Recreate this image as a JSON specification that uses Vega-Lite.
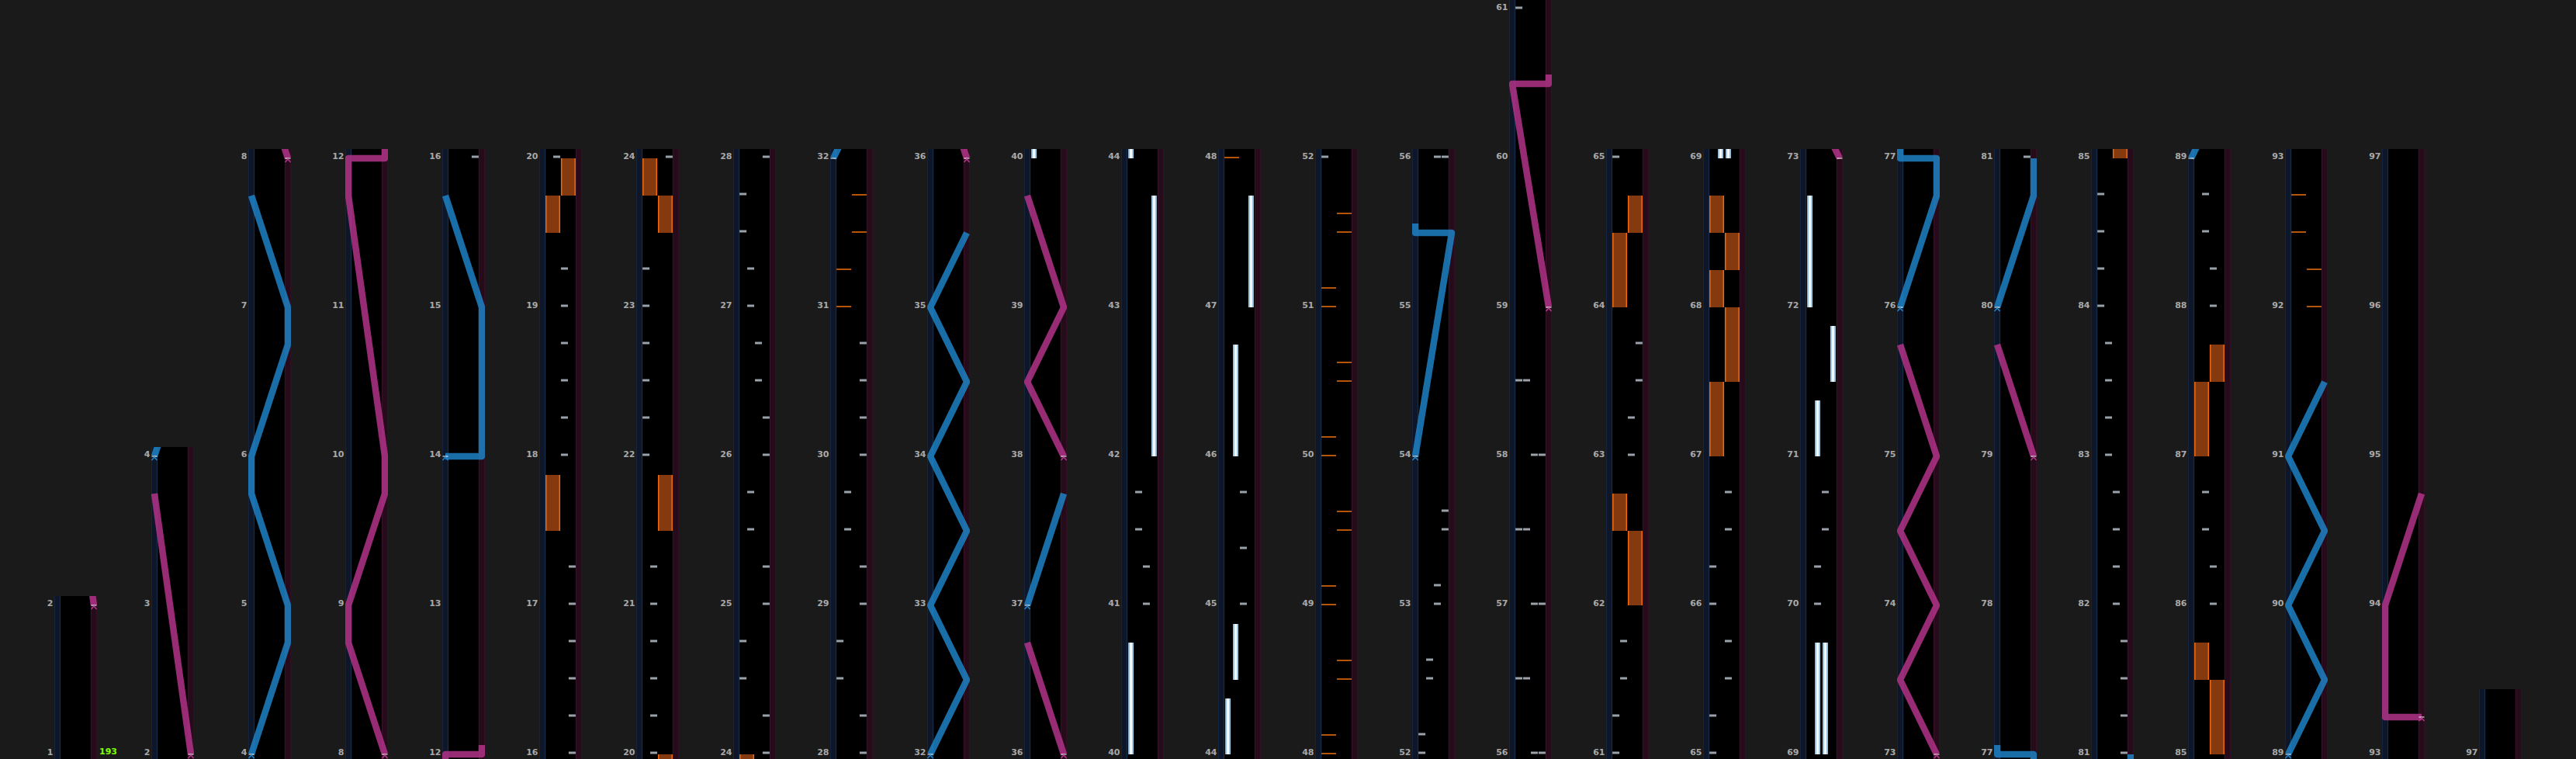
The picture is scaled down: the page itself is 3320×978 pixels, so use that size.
{
"$schema":"https://vega.github.io/schema/vega-lite/v6.json",
"background":"#1a1a1a",
"autosize":{"type":"pad"},
"padding":{"left":60,"top":0,"right":72,"bottom":0},
"spacing":70,
"bounds":"flush",
"config":{
 "view":{"stroke":null,"fill":"#000000"},
 "line":{"strokeWidth":8.5,"opacity":0.82,"strokeJoin":"round","strokeCap":"butt"},
 "axisLeft":{"domain":false,"ticks":false,"labelColor":"#a8a8a8","labelFont":"DejaVu Sans","labelFontWeight":"bold","labelFontSize":11,"labelPadding":2,"labelBaseline":"alphabetic","grid":true,"gridColor":"#858585","gridWidth":1,"labelFlush":false,"labelOverlap":false},
 "axisRight":{"domain":false,"ticks":false,"labels":false,"grid":true,"gridColor":"#3a3a3a","gridWidth":1},
 "axisBottom":{"domain":false,"ticks":false,"labels":false,"grid":true,"gridColor":"#3a3a3a","gridWidth":1}
},
"datasets":{
 "E":[{}],
 "C":[{"m":16,"l":3},{"m":16.25,"l":3},{"m":16.5,"l":3},{"m":16.75,"l":3},{"m":17,"l":3},{"m":17.25,"l":3},
 {"m":18,"l":2},{"m":18.25,"l":2},{"m":18.5,"l":2},{"m":18.75,"l":2},{"m":19,"l":2},{"m":19.25,"l":2},
 {"m":20,"l":1},{"m":20.25,"l":1},{"m":20.5,"l":1},{"m":20.75,"l":1},{"m":21,"l":1},{"m":21.25,"l":1},
 {"m":22,"l":0},{"m":22.25,"l":0},{"m":22.5,"l":0},{"m":22.75,"l":0},{"m":23,"l":0},{"m":23.25,"l":0},
 {"m":24,"l":3},{"m":24.25,"l":3},{"m":24.5,"l":0},{"m":24.75,"l":0},{"m":25,"l":3},{"m":25.25,"l":3},{"m":25.5,"l":1},{"m":25.75,"l":1},{"m":26,"l":3},{"m":26.25,"l":3},{"m":26.5,"l":2},{"m":26.75,"l":2},{"m":27,"l":1},{"m":27.25,"l":1},{"m":27.5,"l":0},{"m":27.75,"l":0},
 {"m":28,"l":3},{"m":28.25,"l":3},{"m":28.5,"l":0},{"m":28.75,"l":0},{"m":29,"l":3},{"m":29.25,"l":3},{"m":29.5,"l":1},{"m":29.75,"l":1},{"m":30,"l":3},{"m":30.25,"l":3},{"m":30.5,"l":3},{"m":30.75,"l":3},
 {"m":41,"l":2},{"m":41.25,"l":2},{"m":41.5,"l":1},{"m":41.75,"l":1},
 {"m":45,"l":2},{"m":45.375,"l":2},{"m":45.75,"l":2},
 {"m":52,"l":0},{"m":52.125,"l":0},{"m":52.5,"l":1},{"m":52.625,"l":1},{"m":53,"l":2},{"m":53.125,"l":2},{"m":53.5,"l":3},{"m":53.625,"l":3},
 {"m":56,"l":2},{"m":56,"l":3},{"m":56.5,"l":0},{"m":56.5,"l":1},{"m":57,"l":2},{"m":57,"l":3},{"m":57.5,"l":0},{"m":57.5,"l":1},{"m":58,"l":2},{"m":58,"l":3},{"m":58.5,"l":0},{"m":58.5,"l":1},
 {"m":61,"l":0},{"m":61.25,"l":0},{"m":61.5,"l":1},{"m":61.75,"l":1},
 {"m":63,"l":2},{"m":63.25,"l":2},{"m":63.5,"l":3},{"m":63.75,"l":3},
 {"m":65,"l":0},{"m":65.25,"l":0},{"m":65.5,"l":2},{"m":65.75,"l":2},{"m":66,"l":0},{"m":66.25,"l":0},{"m":66.5,"l":2},{"m":66.75,"l":2},
 {"m":70,"l":1},{"m":70.25,"l":1},{"m":70.5,"l":2},{"m":70.75,"l":2},
 {"m":81,"l":3},{"m":81.25,"l":3},{"m":81.5,"l":3},{"m":81.75,"l":3},{"m":82,"l":2},{"m":82.25,"l":2},{"m":82.5,"l":2},{"m":82.75,"l":2},
 {"m":83,"l":1},{"m":83.25,"l":1},{"m":83.5,"l":1},{"m":83.75,"l":1},{"m":84,"l":0},{"m":84.25,"l":0},{"m":84.5,"l":0},{"m":84.75,"l":0},
 {"m":86,"l":2},{"m":86.25,"l":2},{"m":86.5,"l":1},{"m":86.75,"l":1},{"m":88,"l":2},{"m":88.25,"l":2},{"m":88.5,"l":1},{"m":88.75,"l":1}],
 "X":[{"m":31,"l":0},{"m":31.25,"l":0},{"m":31.5,"l":1},{"m":31.75,"l":1},
 {"m":48,"l":0},{"m":48.125,"l":0},{"m":48.5,"l":1},{"m":48.625,"l":1},{"m":49,"l":0},{"m":49.125,"l":0},{"m":49.5,"l":1},{"m":49.625,"l":1},{"m":50,"l":0},{"m":50.125,"l":0},{"m":50.5,"l":1},{"m":50.625,"l":1},{"m":51,"l":0},{"m":51.125,"l":0},{"m":51.5,"l":1},{"m":51.625,"l":1},
 {"m":92,"l":1},{"m":92.25,"l":1},{"m":92.5,"l":0},{"m":92.75,"l":0}],
 "H":[{"m":40,"e":40.75,"l":0},{"m":42,"e":43.75,"l":3},{"m":44,"e":44.375,"l":0},{"m":44.5,"e":44.875,"l":1},{"m":46,"e":46.75,"l":1},{"m":47,"e":47.75,"l":3},
 {"m":69,"e":69.75,"l":1},{"m":69,"e":69.75,"l":2},{"m":71,"e":71.375,"l":1},{"m":71.5,"e":71.875,"l":3},{"m":72,"e":72.75,"l":0}],
 "F":[{"m":17.5,"e":17.875,"l":0},{"m":19.5,"e":19.75,"l":0},{"m":19.75,"e":20,"l":1},{"m":21.5,"e":21.875,"l":1},{"m":23.5,"e":23.75,"l":1},{"m":23.75,"e":24,"l":0},
 {"m":62,"e":62.5,"l":1},{"m":62.5,"e":62.75,"l":0},{"m":64,"e":64.5,"l":0},{"m":64.5,"e":64.75,"l":1},
 {"m":67,"e":67.5,"l":0},{"m":67.5,"e":68,"l":1},{"m":68,"e":68.25,"l":0},{"m":68.25,"e":68.5,"l":1},{"m":68.5,"e":68.75,"l":0},
 {"m":85,"e":85.5,"l":1},{"m":85.5,"e":85.75,"l":0},{"m":87,"e":87.5,"l":0},{"m":87.5,"e":87.75,"l":1}],
 "L":[
 {"id":"r1","sd":"R","s":0,"m":2,"p":1},{"id":"r1","sd":"R","s":1,"m":3.75,"p":0},
 {"id":"b1","sd":"L","s":0,"m":4,"p":0},{"id":"b1","sd":"L","s":1,"m":4.75,"p":1},{"id":"b1","sd":"L","s":2,"m":5,"p":1},{"id":"b1","sd":"L","s":3,"m":5.75,"p":0},{"id":"b1","sd":"L","s":4,"m":6,"p":0},{"id":"b1","sd":"L","s":5,"m":6.75,"p":1},{"id":"b1","sd":"L","s":6,"m":7,"p":1},{"id":"b1","sd":"L","s":7,"m":7.75,"p":0},
 {"id":"r2","sd":"R","s":0,"m":8,"p":1},{"id":"r2","sd":"R","s":1,"m":8.75,"p":0},{"id":"r2","sd":"R","s":2,"m":9,"p":0},{"id":"r2","sd":"R","s":3,"m":9.75,"p":1},{"id":"r2","sd":"R","s":4,"m":10,"p":1},{"id":"r2","sd":"R","s":5,"m":11.75,"p":0},{"id":"r2","sd":"R","s":6,"m":12,"p":0},{"id":"r2","sd":"R","s":7,"m":12,"p":1},{"id":"r2","sd":"R","s":8,"m":12.0625,"p":1},
 {"id":"b2","sd":"L","s":0,"m":14,"p":0},{"id":"b2","sd":"L","s":1,"m":14,"p":1},{"id":"b2","sd":"L","s":2,"m":15,"p":1},{"id":"b2","sd":"L","s":3,"m":15.75,"p":0},
 {"id":"b3","sd":"L","s":0,"m":32,"p":0},{"id":"b3","sd":"L","s":1,"m":32.5,"p":1},{"id":"b3","sd":"L","s":2,"m":33,"p":0},{"id":"b3","sd":"L","s":3,"m":33.5,"p":1},{"id":"b3","sd":"L","s":4,"m":34,"p":0},{"id":"b3","sd":"L","s":5,"m":34.5,"p":1},{"id":"b3","sd":"L","s":6,"m":35,"p":0},{"id":"b3","sd":"L","s":7,"m":35.5,"p":1},
 {"id":"r3","sd":"R","s":0,"m":36,"p":1},{"id":"r3","sd":"R","s":1,"m":36.75,"p":0},
 {"id":"b4","sd":"L","s":0,"m":37,"p":0},{"id":"b4","sd":"L","s":1,"m":37.75,"p":1},
 {"id":"r4","sd":"R","s":0,"m":38,"p":1},{"id":"r4","sd":"R","s":1,"m":38.5,"p":0},{"id":"r4","sd":"R","s":2,"m":39,"p":1},{"id":"r4","sd":"R","s":3,"m":39.75,"p":0},
 {"id":"b5","sd":"L","s":0,"m":54,"p":0},{"id":"b5","sd":"L","s":1,"m":55.5,"p":1},{"id":"b5","sd":"L","s":2,"m":55.5,"p":0},{"id":"b5","sd":"L","s":3,"m":55.5625,"p":0},
 {"id":"r5","sd":"R","s":0,"m":59,"p":1},{"id":"r5","sd":"R","s":1,"m":60.5,"p":0},{"id":"r5","sd":"R","s":2,"m":60.5,"p":1},{"id":"r5","sd":"R","s":3,"m":60.5625,"p":1},
 {"id":"r6","sd":"R","s":0,"m":73,"p":1},{"id":"r6","sd":"R","s":1,"m":73.5,"p":0},{"id":"r6","sd":"R","s":2,"m":74,"p":1},{"id":"r6","sd":"R","s":3,"m":74.5,"p":0},{"id":"r6","sd":"R","s":4,"m":75,"p":1},{"id":"r6","sd":"R","s":5,"m":75.75,"p":0},
 {"id":"b6","sd":"L","s":0,"m":76,"p":0},{"id":"b6","sd":"L","s":1,"m":76.75,"p":1},{"id":"b6","sd":"L","s":2,"m":77,"p":1},{"id":"b6","sd":"L","s":3,"m":77,"p":0},{"id":"b6","sd":"L","s":4,"m":77.0625,"p":0},
 {"id":"r7","sd":"R","s":0,"m":79,"p":1},{"id":"r7","sd":"R","s":1,"m":79.75,"p":0},
 {"id":"b7","sd":"L","s":0,"m":80,"p":0},{"id":"b7","sd":"L","s":1,"m":80.75,"p":1},{"id":"b7","sd":"L","s":2,"m":81,"p":1},
 {"id":"b8","sd":"L","s":0,"m":89,"p":0},{"id":"b8","sd":"L","s":1,"m":89.5,"p":1},{"id":"b8","sd":"L","s":2,"m":90,"p":0},{"id":"b8","sd":"L","s":3,"m":90.5,"p":1},{"id":"b8","sd":"L","s":4,"m":91,"p":0},{"id":"b8","sd":"L","s":5,"m":91.5,"p":1},
 {"id":"r8","sd":"R","s":0,"m":93.25,"p":1},{"id":"r8","sd":"R","s":1,"m":93.25,"p":0},{"id":"r8","sd":"R","s":2,"m":94,"p":0},{"id":"r8","sd":"R","s":3,"m":94.75,"p":1}
 ],
 "B":[{"m":1,"bpm":193}]
},
"hconcat":[
{"width":55,"height":978,"resolve":{"scale":{"x":"independent"},"axis":{"y":"independent"}},"layer":[
{"data":{"name":"E"},"mark":{"type":"rect","fill":"#0d1729","stroke":"#1e3350","clip":true},"encoding":{"x":{"datum":-1.27,"type":"quantitative","scale":{"domain":[-1.27,4.27]},"axis":null},"x2":{"datum":-0.5},"y":{"datum":-200,"type":"quantitative","axis":null},"y2":{"datum":200}}},
{"data":{"name":"E"},"mark":{"type":"rect","fill":"#260c1b","stroke":"#3e1630","clip":true},"encoding":{"x":{"datum":3.5,"type":"quantitative","scale":{"domain":[-1.27,4.27]},"axis":null},"x2":{"datum":4.27},"y":{"datum":-200,"type":"quantitative","axis":null},"y2":{"datum":200}}},
{"data":{"name":"C"},"mark":{"type":"tick","orient":"horizontal","size":9,"thickness":3,"yOffset":-2,"color":"#dce6ef","clip":true},"encoding":{"x":{"field":"l","type":"quantitative","scale":{"domain":[-1.27,4.27]},"axis":{"values":[-0.5,0.5,1.5,2.5,3.5],"title":null}},"y":{"field":"m","type":"quantitative","scale":{"domain":[0.96875,6.0625],"nice":false,"zero":false},"axis":{"orient":"left","values":[1,2],"title":null,"zindex":1}}}},
{"data":{"name":"X"},"mark":{"type":"tick","orient":"horizontal","size":19,"thickness":2,"yOffset":-1,"color":"#ff7a10","clip":true},"encoding":{"x":{"field":"l","type":"quantitative","scale":{"domain":[-0.885,1.885]},"axis":null},"y":{"field":"m","type":"quantitative","axis":{"orient":"right","values":[1.25,1.5,1.75],"title":null}}}},
{"data":{"name":"L"},"mark":{"type":"line","clip":true},"encoding":{"x":{"field":"p","type":"quantitative","scale":{"domain":[-0.0851,1.0851]},"axis":null},"y":{"field":"m","type":"quantitative","axis":null},"color":{"field":"sd","type":"nominal","scale":{"domain":["L","R"],"range":["#1f86cc","#b8358e"]},"legend":null},"detail":{"field":"id"},"order":{"field":"s"}}},
{"data":{"name":"L"},"transform":[{"filter":"datum.s==0"}],"mark":{"type":"tick","orient":"horizontal","size":7,"thickness":1.5,"color":"#ffffff","clip":true},"encoding":{"x":{"field":"p","type":"quantitative","scale":{"domain":[-0.0851,1.0851]},"axis":null},"y":{"field":"m","type":"quantitative","axis":null}}},
{"data":{"name":"L"},"transform":[{"filter":"datum.s==0"}],"mark":{"type":"point","shape":"M-1,0.6L0,-0.6L1,0.6","filled":false,"strokeWidth":1.5,"size":49,"yOffset":3,"opacity":1,"clip":true},"encoding":{"x":{"field":"p","type":"quantitative","scale":{"domain":[-0.0851,1.0851]},"axis":null},"y":{"field":"m","type":"quantitative","axis":null},"color":{"field":"sd","type":"nominal","scale":{"domain":["L","R"],"range":["#1f86cc","#b8358e"]},"legend":null}}},
{"data":{"name":"E"},"mark":{"type":"rect","color":"#1a1a1a","yOffset":-12,"clip":true},"encoding":{"x":{"datum":-200,"type":"quantitative","scale":{"domain":[-1.27,4.27]},"axis":null},"x2":{"datum":200},"y":{"datum":2,"type":"quantitative","axis":null},"y2":{"datum":200}}},
{"data":{"name":"B"},"mark":{"type":"text","color":"#80ff00","font":"DejaVu Sans","fontWeight":"bold","fontSize":11,"align":"left","baseline":"alphabetic","dx":3},"encoding":{"x":{"datum":4.27,"type":"quantitative","scale":{"domain":[-1.27,4.27]},"axis":null},"y":{"field":"m","type":"quantitative","axis":null},"text":{"field":"bpm"}}}
]},
{"width":55,"height":978,"resolve":{"scale":{"x":"independent"},"axis":{"y":"independent"}},"layer":[
{"data":{"name":"E"},"mark":{"type":"rect","fill":"#0d1729","stroke":"#1e3350","clip":true},"encoding":{"x":{"datum":-1.27,"type":"quantitative","scale":{"domain":[-1.27,4.27]},"axis":null},"x2":{"datum":-0.5},"y":{"datum":-200,"type":"quantitative","axis":null},"y2":{"datum":200}}},
{"data":{"name":"E"},"mark":{"type":"rect","fill":"#260c1b","stroke":"#3e1630","clip":true},"encoding":{"x":{"datum":3.5,"type":"quantitative","scale":{"domain":[-1.27,4.27]},"axis":null},"x2":{"datum":4.27},"y":{"datum":-200,"type":"quantitative","axis":null},"y2":{"datum":200}}},
{"data":{"name":"C"},"mark":{"type":"tick","orient":"horizontal","size":9,"thickness":3,"yOffset":-2,"color":"#dce6ef","clip":true},"encoding":{"x":{"field":"l","type":"quantitative","scale":{"domain":[-1.27,4.27]},"axis":{"values":[-0.5,0.5,1.5,2.5,3.5],"title":null}},"y":{"field":"m","type":"quantitative","scale":{"domain":[1.96875,7.0625],"nice":false,"zero":false},"axis":{"orient":"left","values":[2,3,4],"title":null,"zindex":1}}}},
{"data":{"name":"X"},"mark":{"type":"tick","orient":"horizontal","size":19,"thickness":2,"yOffset":-1,"color":"#ff7a10","clip":true},"encoding":{"x":{"field":"l","type":"quantitative","scale":{"domain":[-0.885,1.885]},"axis":null},"y":{"field":"m","type":"quantitative","axis":{"orient":"right","values":[2.25,2.5,2.75,3.25,3.5,3.75],"title":null}}}},
{"data":{"name":"L"},"mark":{"type":"line","clip":true},"encoding":{"x":{"field":"p","type":"quantitative","scale":{"domain":[-0.0851,1.0851]},"axis":null},"y":{"field":"m","type":"quantitative","axis":null},"color":{"field":"sd","type":"nominal","scale":{"domain":["L","R"],"range":["#1f86cc","#b8358e"]},"legend":null},"detail":{"field":"id"},"order":{"field":"s"}}},
{"data":{"name":"L"},"transform":[{"filter":"datum.s==0"}],"mark":{"type":"tick","orient":"horizontal","size":7,"thickness":1.5,"color":"#ffffff","clip":true},"encoding":{"x":{"field":"p","type":"quantitative","scale":{"domain":[-0.0851,1.0851]},"axis":null},"y":{"field":"m","type":"quantitative","axis":null}}},
{"data":{"name":"L"},"transform":[{"filter":"datum.s==0"}],"mark":{"type":"point","shape":"M-1,0.6L0,-0.6L1,0.6","filled":false,"strokeWidth":1.5,"size":49,"yOffset":3,"opacity":1,"clip":true},"encoding":{"x":{"field":"p","type":"quantitative","scale":{"domain":[-0.0851,1.0851]},"axis":null},"y":{"field":"m","type":"quantitative","axis":null},"color":{"field":"sd","type":"nominal","scale":{"domain":["L","R"],"range":["#1f86cc","#b8358e"]},"legend":null}}},
{"data":{"name":"E"},"mark":{"type":"rect","color":"#1a1a1a","yOffset":-12,"clip":true},"encoding":{"x":{"datum":-200,"type":"quantitative","scale":{"domain":[-1.27,4.27]},"axis":null},"x2":{"datum":200},"y":{"datum":4,"type":"quantitative","axis":null},"y2":{"datum":200}}}
]},
{"width":55,"height":978,"resolve":{"scale":{"x":"independent"},"axis":{"y":"independent"}},"layer":[
{"data":{"name":"E"},"mark":{"type":"rect","fill":"#0d1729","stroke":"#1e3350","clip":true},"encoding":{"x":{"datum":-1.27,"type":"quantitative","scale":{"domain":[-1.27,4.27]},"axis":null},"x2":{"datum":-0.5},"y":{"datum":-200,"type":"quantitative","axis":null},"y2":{"datum":200}}},
{"data":{"name":"E"},"mark":{"type":"rect","fill":"#260c1b","stroke":"#3e1630","clip":true},"encoding":{"x":{"datum":3.5,"type":"quantitative","scale":{"domain":[-1.27,4.27]},"axis":null},"x2":{"datum":4.27},"y":{"datum":-200,"type":"quantitative","axis":null},"y2":{"datum":200}}},
{"data":{"name":"C"},"mark":{"type":"tick","orient":"horizontal","size":9,"thickness":3,"yOffset":-2,"color":"#dce6ef","clip":true},"encoding":{"x":{"field":"l","type":"quantitative","scale":{"domain":[-1.27,4.27]},"axis":{"values":[-0.5,0.5,1.5,2.5,3.5],"title":null}},"y":{"field":"m","type":"quantitative","scale":{"domain":[3.96875,9.0625],"nice":false,"zero":false},"axis":{"orient":"left","values":[4,5,6,7,8],"title":null,"zindex":1}}}},
{"data":{"name":"X"},"mark":{"type":"tick","orient":"horizontal","size":19,"thickness":2,"yOffset":-1,"color":"#ff7a10","clip":true},"encoding":{"x":{"field":"l","type":"quantitative","scale":{"domain":[-0.885,1.885]},"axis":null},"y":{"field":"m","type":"quantitative","axis":{"orient":"right","values":[4.25,4.5,4.75,5.25,5.5,5.75,6.25,6.5,6.75,7.25,7.5,7.75],"title":null}}}},
{"data":{"name":"L"},"mark":{"type":"line","clip":true},"encoding":{"x":{"field":"p","type":"quantitative","scale":{"domain":[-0.0851,1.0851]},"axis":null},"y":{"field":"m","type":"quantitative","axis":null},"color":{"field":"sd","type":"nominal","scale":{"domain":["L","R"],"range":["#1f86cc","#b8358e"]},"legend":null},"detail":{"field":"id"},"order":{"field":"s"}}},
{"data":{"name":"L"},"transform":[{"filter":"datum.s==0"}],"mark":{"type":"tick","orient":"horizontal","size":7,"thickness":1.5,"color":"#ffffff","clip":true},"encoding":{"x":{"field":"p","type":"quantitative","scale":{"domain":[-0.0851,1.0851]},"axis":null},"y":{"field":"m","type":"quantitative","axis":null}}},
{"data":{"name":"L"},"transform":[{"filter":"datum.s==0"}],"mark":{"type":"point","shape":"M-1,0.6L0,-0.6L1,0.6","filled":false,"strokeWidth":1.5,"size":49,"yOffset":3,"opacity":1,"clip":true},"encoding":{"x":{"field":"p","type":"quantitative","scale":{"domain":[-0.0851,1.0851]},"axis":null},"y":{"field":"m","type":"quantitative","axis":null},"color":{"field":"sd","type":"nominal","scale":{"domain":["L","R"],"range":["#1f86cc","#b8358e"]},"legend":null}}},
{"data":{"name":"E"},"mark":{"type":"rect","color":"#1a1a1a","yOffset":-12,"clip":true},"encoding":{"x":{"datum":-200,"type":"quantitative","scale":{"domain":[-1.27,4.27]},"axis":null},"x2":{"datum":200},"y":{"datum":8,"type":"quantitative","axis":null},"y2":{"datum":200}}}
]},
{"width":55,"height":978,"resolve":{"scale":{"x":"independent"},"axis":{"y":"independent"}},"layer":[
{"data":{"name":"E"},"mark":{"type":"rect","fill":"#0d1729","stroke":"#1e3350","clip":true},"encoding":{"x":{"datum":-1.27,"type":"quantitative","scale":{"domain":[-1.27,4.27]},"axis":null},"x2":{"datum":-0.5},"y":{"datum":-200,"type":"quantitative","axis":null},"y2":{"datum":200}}},
{"data":{"name":"E"},"mark":{"type":"rect","fill":"#260c1b","stroke":"#3e1630","clip":true},"encoding":{"x":{"datum":3.5,"type":"quantitative","scale":{"domain":[-1.27,4.27]},"axis":null},"x2":{"datum":4.27},"y":{"datum":-200,"type":"quantitative","axis":null},"y2":{"datum":200}}},
{"data":{"name":"C"},"mark":{"type":"tick","orient":"horizontal","size":9,"thickness":3,"yOffset":-2,"color":"#dce6ef","clip":true},"encoding":{"x":{"field":"l","type":"quantitative","scale":{"domain":[-1.27,4.27]},"axis":{"values":[-0.5,0.5,1.5,2.5,3.5],"title":null}},"y":{"field":"m","type":"quantitative","scale":{"domain":[7.96875,13.0625],"nice":false,"zero":false},"axis":{"orient":"left","values":[8,9,10,11,12],"title":null,"zindex":1}}}},
{"data":{"name":"X"},"mark":{"type":"tick","orient":"horizontal","size":19,"thickness":2,"yOffset":-1,"color":"#ff7a10","clip":true},"encoding":{"x":{"field":"l","type":"quantitative","scale":{"domain":[-0.885,1.885]},"axis":null},"y":{"field":"m","type":"quantitative","axis":{"orient":"right","values":[8.25,8.5,8.75,9.25,9.5,9.75,10.25,10.5,10.75,11.25,11.5,11.75],"title":null}}}},
{"data":{"name":"L"},"mark":{"type":"line","clip":true},"encoding":{"x":{"field":"p","type":"quantitative","scale":{"domain":[-0.0851,1.0851]},"axis":null},"y":{"field":"m","type":"quantitative","axis":null},"color":{"field":"sd","type":"nominal","scale":{"domain":["L","R"],"range":["#1f86cc","#b8358e"]},"legend":null},"detail":{"field":"id"},"order":{"field":"s"}}},
{"data":{"name":"L"},"transform":[{"filter":"datum.s==0"}],"mark":{"type":"tick","orient":"horizontal","size":7,"thickness":1.5,"color":"#ffffff","clip":true},"encoding":{"x":{"field":"p","type":"quantitative","scale":{"domain":[-0.0851,1.0851]},"axis":null},"y":{"field":"m","type":"quantitative","axis":null}}},
{"data":{"name":"L"},"transform":[{"filter":"datum.s==0"}],"mark":{"type":"point","shape":"M-1,0.6L0,-0.6L1,0.6","filled":false,"strokeWidth":1.5,"size":49,"yOffset":3,"opacity":1,"clip":true},"encoding":{"x":{"field":"p","type":"quantitative","scale":{"domain":[-0.0851,1.0851]},"axis":null},"y":{"field":"m","type":"quantitative","axis":null},"color":{"field":"sd","type":"nominal","scale":{"domain":["L","R"],"range":["#1f86cc","#b8358e"]},"legend":null}}},
{"data":{"name":"E"},"mark":{"type":"rect","color":"#1a1a1a","yOffset":-12,"clip":true},"encoding":{"x":{"datum":-200,"type":"quantitative","scale":{"domain":[-1.27,4.27]},"axis":null},"x2":{"datum":200},"y":{"datum":12,"type":"quantitative","axis":null},"y2":{"datum":200}}}
]},
{"width":55,"height":978,"resolve":{"scale":{"x":"independent"},"axis":{"y":"independent"}},"layer":[
{"data":{"name":"E"},"mark":{"type":"rect","fill":"#0d1729","stroke":"#1e3350","clip":true},"encoding":{"x":{"datum":-1.27,"type":"quantitative","scale":{"domain":[-1.27,4.27]},"axis":null},"x2":{"datum":-0.5},"y":{"datum":-200,"type":"quantitative","axis":null},"y2":{"datum":200}}},
{"data":{"name":"E"},"mark":{"type":"rect","fill":"#260c1b","stroke":"#3e1630","clip":true},"encoding":{"x":{"datum":3.5,"type":"quantitative","scale":{"domain":[-1.27,4.27]},"axis":null},"x2":{"datum":4.27},"y":{"datum":-200,"type":"quantitative","axis":null},"y2":{"datum":200}}},
{"data":{"name":"C"},"mark":{"type":"tick","orient":"horizontal","size":9,"thickness":3,"yOffset":-2,"color":"#dce6ef","clip":true},"encoding":{"x":{"field":"l","type":"quantitative","scale":{"domain":[-1.27,4.27]},"axis":{"values":[-0.5,0.5,1.5,2.5,3.5],"title":null}},"y":{"field":"m","type":"quantitative","scale":{"domain":[11.96875,17.0625],"nice":false,"zero":false},"axis":{"orient":"left","values":[12,13,14,15,16],"title":null,"zindex":1}}}},
{"data":{"name":"X"},"mark":{"type":"tick","orient":"horizontal","size":19,"thickness":2,"yOffset":-1,"color":"#ff7a10","clip":true},"encoding":{"x":{"field":"l","type":"quantitative","scale":{"domain":[-0.885,1.885]},"axis":null},"y":{"field":"m","type":"quantitative","axis":{"orient":"right","values":[12.25,12.5,12.75,13.25,13.5,13.75,14.25,14.5,14.75,15.25,15.5,15.75],"title":null}}}},
{"data":{"name":"L"},"mark":{"type":"line","clip":true},"encoding":{"x":{"field":"p","type":"quantitative","scale":{"domain":[-0.0851,1.0851]},"axis":null},"y":{"field":"m","type":"quantitative","axis":null},"color":{"field":"sd","type":"nominal","scale":{"domain":["L","R"],"range":["#1f86cc","#b8358e"]},"legend":null},"detail":{"field":"id"},"order":{"field":"s"}}},
{"data":{"name":"L"},"transform":[{"filter":"datum.s==0"}],"mark":{"type":"tick","orient":"horizontal","size":7,"thickness":1.5,"color":"#ffffff","clip":true},"encoding":{"x":{"field":"p","type":"quantitative","scale":{"domain":[-0.0851,1.0851]},"axis":null},"y":{"field":"m","type":"quantitative","axis":null}}},
{"data":{"name":"L"},"transform":[{"filter":"datum.s==0"}],"mark":{"type":"point","shape":"M-1,0.6L0,-0.6L1,0.6","filled":false,"strokeWidth":1.5,"size":49,"yOffset":3,"opacity":1,"clip":true},"encoding":{"x":{"field":"p","type":"quantitative","scale":{"domain":[-0.0851,1.0851]},"axis":null},"y":{"field":"m","type":"quantitative","axis":null},"color":{"field":"sd","type":"nominal","scale":{"domain":["L","R"],"range":["#1f86cc","#b8358e"]},"legend":null}}},
{"data":{"name":"E"},"mark":{"type":"rect","color":"#1a1a1a","yOffset":-12,"clip":true},"encoding":{"x":{"datum":-200,"type":"quantitative","scale":{"domain":[-1.27,4.27]},"axis":null},"x2":{"datum":200},"y":{"datum":16,"type":"quantitative","axis":null},"y2":{"datum":200}}}
]},
{"width":55,"height":978,"resolve":{"scale":{"x":"independent"},"axis":{"y":"independent"}},"layer":[
{"data":{"name":"E"},"mark":{"type":"rect","fill":"#0d1729","stroke":"#1e3350","clip":true},"encoding":{"x":{"datum":-1.27,"type":"quantitative","scale":{"domain":[-1.27,4.27]},"axis":null},"x2":{"datum":-0.5},"y":{"datum":-200,"type":"quantitative","axis":null},"y2":{"datum":200}}},
{"data":{"name":"E"},"mark":{"type":"rect","fill":"#260c1b","stroke":"#3e1630","clip":true},"encoding":{"x":{"datum":3.5,"type":"quantitative","scale":{"domain":[-1.27,4.27]},"axis":null},"x2":{"datum":4.27},"y":{"datum":-200,"type":"quantitative","axis":null},"y2":{"datum":200}}},
{"data":{"name":"F"},"mark":{"type":"rule","color":"#f06a10","strokeWidth":19,"clip":true},"encoding":{"x":{"field":"l","type":"quantitative","scale":{"domain":[-0.885,1.885]},"axis":null},"y":{"field":"m","type":"quantitative","axis":null},"y2":{"field":"e"}}},
{"data":{"name":"F"},"mark":{"type":"rule","color":"#843a0e","strokeWidth":16,"clip":true},"encoding":{"x":{"field":"l","type":"quantitative","scale":{"domain":[-0.885,1.885]},"axis":null},"y":{"field":"m","type":"quantitative","axis":null},"y2":{"field":"e"}}},
{"data":{"name":"C"},"mark":{"type":"tick","orient":"horizontal","size":9,"thickness":3,"yOffset":-2,"color":"#dce6ef","clip":true},"encoding":{"x":{"field":"l","type":"quantitative","scale":{"domain":[-1.27,4.27]},"axis":{"values":[-0.5,0.5,1.5,2.5,3.5],"title":null}},"y":{"field":"m","type":"quantitative","scale":{"domain":[15.96875,21.0625],"nice":false,"zero":false},"axis":{"orient":"left","values":[16,17,18,19,20],"title":null,"zindex":1}}}},
{"data":{"name":"X"},"mark":{"type":"tick","orient":"horizontal","size":19,"thickness":2,"yOffset":-1,"color":"#ff7a10","clip":true},"encoding":{"x":{"field":"l","type":"quantitative","scale":{"domain":[-0.885,1.885]},"axis":null},"y":{"field":"m","type":"quantitative","axis":{"orient":"right","values":[16.25,16.5,16.75,17.25,17.5,17.75,18.25,18.5,18.75,19.25,19.5,19.75],"title":null}}}},
{"data":{"name":"L"},"mark":{"type":"line","clip":true},"encoding":{"x":{"field":"p","type":"quantitative","scale":{"domain":[-0.0851,1.0851]},"axis":null},"y":{"field":"m","type":"quantitative","axis":null},"color":{"field":"sd","type":"nominal","scale":{"domain":["L","R"],"range":["#1f86cc","#b8358e"]},"legend":null},"detail":{"field":"id"},"order":{"field":"s"}}},
{"data":{"name":"E"},"mark":{"type":"rect","color":"#1a1a1a","yOffset":-12,"clip":true},"encoding":{"x":{"datum":-200,"type":"quantitative","scale":{"domain":[-1.27,4.27]},"axis":null},"x2":{"datum":200},"y":{"datum":20,"type":"quantitative","axis":null},"y2":{"datum":200}}}
]},
{"width":55,"height":978,"resolve":{"scale":{"x":"independent"},"axis":{"y":"independent"}},"layer":[
{"data":{"name":"E"},"mark":{"type":"rect","fill":"#0d1729","stroke":"#1e3350","clip":true},"encoding":{"x":{"datum":-1.27,"type":"quantitative","scale":{"domain":[-1.27,4.27]},"axis":null},"x2":{"datum":-0.5},"y":{"datum":-200,"type":"quantitative","axis":null},"y2":{"datum":200}}},
{"data":{"name":"E"},"mark":{"type":"rect","fill":"#260c1b","stroke":"#3e1630","clip":true},"encoding":{"x":{"datum":3.5,"type":"quantitative","scale":{"domain":[-1.27,4.27]},"axis":null},"x2":{"datum":4.27},"y":{"datum":-200,"type":"quantitative","axis":null},"y2":{"datum":200}}},
{"data":{"name":"F"},"mark":{"type":"rule","color":"#f06a10","strokeWidth":19,"clip":true},"encoding":{"x":{"field":"l","type":"quantitative","scale":{"domain":[-0.885,1.885]},"axis":null},"y":{"field":"m","type":"quantitative","axis":null},"y2":{"field":"e"}}},
{"data":{"name":"F"},"mark":{"type":"rule","color":"#843a0e","strokeWidth":16,"clip":true},"encoding":{"x":{"field":"l","type":"quantitative","scale":{"domain":[-0.885,1.885]},"axis":null},"y":{"field":"m","type":"quantitative","axis":null},"y2":{"field":"e"}}},
{"data":{"name":"C"},"mark":{"type":"tick","orient":"horizontal","size":9,"thickness":3,"yOffset":-2,"color":"#dce6ef","clip":true},"encoding":{"x":{"field":"l","type":"quantitative","scale":{"domain":[-1.27,4.27]},"axis":{"values":[-0.5,0.5,1.5,2.5,3.5],"title":null}},"y":{"field":"m","type":"quantitative","scale":{"domain":[19.96875,25.0625],"nice":false,"zero":false},"axis":{"orient":"left","values":[20,21,22,23,24],"title":null,"zindex":1}}}},
{"data":{"name":"X"},"mark":{"type":"tick","orient":"horizontal","size":19,"thickness":2,"yOffset":-1,"color":"#ff7a10","clip":true},"encoding":{"x":{"field":"l","type":"quantitative","scale":{"domain":[-0.885,1.885]},"axis":null},"y":{"field":"m","type":"quantitative","axis":{"orient":"right","values":[20.25,20.5,20.75,21.25,21.5,21.75,22.25,22.5,22.75,23.25,23.5,23.75],"title":null}}}},
{"data":{"name":"E"},"mark":{"type":"rect","color":"#1a1a1a","yOffset":-12,"clip":true},"encoding":{"x":{"datum":-200,"type":"quantitative","scale":{"domain":[-1.27,4.27]},"axis":null},"x2":{"datum":200},"y":{"datum":24,"type":"quantitative","axis":null},"y2":{"datum":200}}}
]},
{"width":55,"height":978,"resolve":{"scale":{"x":"independent"},"axis":{"y":"independent"}},"layer":[
{"data":{"name":"E"},"mark":{"type":"rect","fill":"#0d1729","stroke":"#1e3350","clip":true},"encoding":{"x":{"datum":-1.27,"type":"quantitative","scale":{"domain":[-1.27,4.27]},"axis":null},"x2":{"datum":-0.5},"y":{"datum":-200,"type":"quantitative","axis":null},"y2":{"datum":200}}},
{"data":{"name":"E"},"mark":{"type":"rect","fill":"#260c1b","stroke":"#3e1630","clip":true},"encoding":{"x":{"datum":3.5,"type":"quantitative","scale":{"domain":[-1.27,4.27]},"axis":null},"x2":{"datum":4.27},"y":{"datum":-200,"type":"quantitative","axis":null},"y2":{"datum":200}}},
{"data":{"name":"F"},"mark":{"type":"rule","color":"#f06a10","strokeWidth":19,"clip":true},"encoding":{"x":{"field":"l","type":"quantitative","scale":{"domain":[-0.885,1.885]},"axis":null},"y":{"field":"m","type":"quantitative","axis":null},"y2":{"field":"e"}}},
{"data":{"name":"F"},"mark":{"type":"rule","color":"#843a0e","strokeWidth":16,"clip":true},"encoding":{"x":{"field":"l","type":"quantitative","scale":{"domain":[-0.885,1.885]},"axis":null},"y":{"field":"m","type":"quantitative","axis":null},"y2":{"field":"e"}}},
{"data":{"name":"C"},"mark":{"type":"tick","orient":"horizontal","size":9,"thickness":3,"yOffset":-2,"color":"#dce6ef","clip":true},"encoding":{"x":{"field":"l","type":"quantitative","scale":{"domain":[-1.27,4.27]},"axis":{"values":[-0.5,0.5,1.5,2.5,3.5],"title":null}},"y":{"field":"m","type":"quantitative","scale":{"domain":[23.96875,29.0625],"nice":false,"zero":false},"axis":{"orient":"left","values":[24,25,26,27,28],"title":null,"zindex":1}}}},
{"data":{"name":"X"},"mark":{"type":"tick","orient":"horizontal","size":19,"thickness":2,"yOffset":-1,"color":"#ff7a10","clip":true},"encoding":{"x":{"field":"l","type":"quantitative","scale":{"domain":[-0.885,1.885]},"axis":null},"y":{"field":"m","type":"quantitative","axis":{"orient":"right","values":[24.25,24.5,24.75,25.25,25.5,25.75,26.25,26.5,26.75,27.25,27.5,27.75],"title":null}}}},
{"data":{"name":"E"},"mark":{"type":"rect","color":"#1a1a1a","yOffset":-12,"clip":true},"encoding":{"x":{"datum":-200,"type":"quantitative","scale":{"domain":[-1.27,4.27]},"axis":null},"x2":{"datum":200},"y":{"datum":28,"type":"quantitative","axis":null},"y2":{"datum":200}}}
]},
{"width":55,"height":978,"resolve":{"scale":{"x":"independent"},"axis":{"y":"independent"}},"layer":[
{"data":{"name":"E"},"mark":{"type":"rect","fill":"#0d1729","stroke":"#1e3350","clip":true},"encoding":{"x":{"datum":-1.27,"type":"quantitative","scale":{"domain":[-1.27,4.27]},"axis":null},"x2":{"datum":-0.5},"y":{"datum":-200,"type":"quantitative","axis":null},"y2":{"datum":200}}},
{"data":{"name":"E"},"mark":{"type":"rect","fill":"#260c1b","stroke":"#3e1630","clip":true},"encoding":{"x":{"datum":3.5,"type":"quantitative","scale":{"domain":[-1.27,4.27]},"axis":null},"x2":{"datum":4.27},"y":{"datum":-200,"type":"quantitative","axis":null},"y2":{"datum":200}}},
{"data":{"name":"C"},"mark":{"type":"tick","orient":"horizontal","size":9,"thickness":3,"yOffset":-2,"color":"#dce6ef","clip":true},"encoding":{"x":{"field":"l","type":"quantitative","scale":{"domain":[-1.27,4.27]},"axis":{"values":[-0.5,0.5,1.5,2.5,3.5],"title":null}},"y":{"field":"m","type":"quantitative","scale":{"domain":[27.96875,33.0625],"nice":false,"zero":false},"axis":{"orient":"left","values":[28,29,30,31,32],"title":null,"zindex":1}}}},
{"data":{"name":"X"},"mark":{"type":"tick","orient":"horizontal","size":19,"thickness":2,"yOffset":-1,"color":"#ff7a10","clip":true},"encoding":{"x":{"field":"l","type":"quantitative","scale":{"domain":[-0.885,1.885]},"axis":null},"y":{"field":"m","type":"quantitative","axis":{"orient":"right","values":[28.25,28.5,28.75,29.25,29.5,29.75,30.25,30.5,30.75,31.25,31.5,31.75],"title":null}}}},
{"data":{"name":"L"},"mark":{"type":"line","clip":true},"encoding":{"x":{"field":"p","type":"quantitative","scale":{"domain":[-0.0851,1.0851]},"axis":null},"y":{"field":"m","type":"quantitative","axis":null},"color":{"field":"sd","type":"nominal","scale":{"domain":["L","R"],"range":["#1f86cc","#b8358e"]},"legend":null},"detail":{"field":"id"},"order":{"field":"s"}}},
{"data":{"name":"L"},"transform":[{"filter":"datum.s==0"}],"mark":{"type":"tick","orient":"horizontal","size":7,"thickness":1.5,"color":"#ffffff","clip":true},"encoding":{"x":{"field":"p","type":"quantitative","scale":{"domain":[-0.0851,1.0851]},"axis":null},"y":{"field":"m","type":"quantitative","axis":null}}},
{"data":{"name":"E"},"mark":{"type":"rect","color":"#1a1a1a","yOffset":-12,"clip":true},"encoding":{"x":{"datum":-200,"type":"quantitative","scale":{"domain":[-1.27,4.27]},"axis":null},"x2":{"datum":200},"y":{"datum":32,"type":"quantitative","axis":null},"y2":{"datum":200}}}
]},
{"width":55,"height":978,"resolve":{"scale":{"x":"independent"},"axis":{"y":"independent"}},"layer":[
{"data":{"name":"E"},"mark":{"type":"rect","fill":"#0d1729","stroke":"#1e3350","clip":true},"encoding":{"x":{"datum":-1.27,"type":"quantitative","scale":{"domain":[-1.27,4.27]},"axis":null},"x2":{"datum":-0.5},"y":{"datum":-200,"type":"quantitative","axis":null},"y2":{"datum":200}}},
{"data":{"name":"E"},"mark":{"type":"rect","fill":"#260c1b","stroke":"#3e1630","clip":true},"encoding":{"x":{"datum":3.5,"type":"quantitative","scale":{"domain":[-1.27,4.27]},"axis":null},"x2":{"datum":4.27},"y":{"datum":-200,"type":"quantitative","axis":null},"y2":{"datum":200}}},
{"data":{"name":"C"},"mark":{"type":"tick","orient":"horizontal","size":9,"thickness":3,"yOffset":-2,"color":"#dce6ef","clip":true},"encoding":{"x":{"field":"l","type":"quantitative","scale":{"domain":[-1.27,4.27]},"axis":{"values":[-0.5,0.5,1.5,2.5,3.5],"title":null}},"y":{"field":"m","type":"quantitative","scale":{"domain":[31.96875,37.0625],"nice":false,"zero":false},"axis":{"orient":"left","values":[32,33,34,35,36],"title":null,"zindex":1}}}},
{"data":{"name":"X"},"mark":{"type":"tick","orient":"horizontal","size":19,"thickness":2,"yOffset":-1,"color":"#ff7a10","clip":true},"encoding":{"x":{"field":"l","type":"quantitative","scale":{"domain":[-0.885,1.885]},"axis":null},"y":{"field":"m","type":"quantitative","axis":{"orient":"right","values":[32.25,32.5,32.75,33.25,33.5,33.75,34.25,34.5,34.75,35.25,35.5,35.75],"title":null}}}},
{"data":{"name":"L"},"mark":{"type":"line","clip":true},"encoding":{"x":{"field":"p","type":"quantitative","scale":{"domain":[-0.0851,1.0851]},"axis":null},"y":{"field":"m","type":"quantitative","axis":null},"color":{"field":"sd","type":"nominal","scale":{"domain":["L","R"],"range":["#1f86cc","#b8358e"]},"legend":null},"detail":{"field":"id"},"order":{"field":"s"}}},
{"data":{"name":"L"},"transform":[{"filter":"datum.s==0"}],"mark":{"type":"tick","orient":"horizontal","size":7,"thickness":1.5,"color":"#ffffff","clip":true},"encoding":{"x":{"field":"p","type":"quantitative","scale":{"domain":[-0.0851,1.0851]},"axis":null},"y":{"field":"m","type":"quantitative","axis":null}}},
{"data":{"name":"L"},"transform":[{"filter":"datum.s==0"}],"mark":{"type":"point","shape":"M-1,0.6L0,-0.6L1,0.6","filled":false,"strokeWidth":1.5,"size":49,"yOffset":3,"opacity":1,"clip":true},"encoding":{"x":{"field":"p","type":"quantitative","scale":{"domain":[-0.0851,1.0851]},"axis":null},"y":{"field":"m","type":"quantitative","axis":null},"color":{"field":"sd","type":"nominal","scale":{"domain":["L","R"],"range":["#1f86cc","#b8358e"]},"legend":null}}},
{"data":{"name":"E"},"mark":{"type":"rect","color":"#1a1a1a","yOffset":-12,"clip":true},"encoding":{"x":{"datum":-200,"type":"quantitative","scale":{"domain":[-1.27,4.27]},"axis":null},"x2":{"datum":200},"y":{"datum":36,"type":"quantitative","axis":null},"y2":{"datum":200}}}
]},
{"width":55,"height":978,"resolve":{"scale":{"x":"independent"},"axis":{"y":"independent"}},"layer":[
{"data":{"name":"E"},"mark":{"type":"rect","fill":"#0d1729","stroke":"#1e3350","clip":true},"encoding":{"x":{"datum":-1.27,"type":"quantitative","scale":{"domain":[-1.27,4.27]},"axis":null},"x2":{"datum":-0.5},"y":{"datum":-200,"type":"quantitative","axis":null},"y2":{"datum":200}}},
{"data":{"name":"E"},"mark":{"type":"rect","fill":"#260c1b","stroke":"#3e1630","clip":true},"encoding":{"x":{"datum":3.5,"type":"quantitative","scale":{"domain":[-1.27,4.27]},"axis":null},"x2":{"datum":4.27},"y":{"datum":-200,"type":"quantitative","axis":null},"y2":{"datum":200}}},
{"data":{"name":"H"},"mark":{"type":"rule","color":"#9cc4e0","strokeWidth":7,"clip":true},"encoding":{"x":{"field":"l","type":"quantitative","scale":{"domain":[-1.27,4.27]},"axis":null},"y":{"field":"m","type":"quantitative","axis":null},"y2":{"field":"e"}}},
{"data":{"name":"H"},"mark":{"type":"rule","color":"#f4faff","strokeWidth":3,"clip":true},"encoding":{"x":{"field":"l","type":"quantitative","scale":{"domain":[-1.27,4.27]},"axis":null},"y":{"field":"m","type":"quantitative","axis":null},"y2":{"field":"e"}}},
{"data":{"name":"C"},"mark":{"type":"tick","orient":"horizontal","size":9,"thickness":3,"yOffset":-2,"color":"#dce6ef","clip":true},"encoding":{"x":{"field":"l","type":"quantitative","scale":{"domain":[-1.27,4.27]},"axis":{"values":[-0.5,0.5,1.5,2.5,3.5],"title":null}},"y":{"field":"m","type":"quantitative","scale":{"domain":[35.96875,41.0625],"nice":false,"zero":false},"axis":{"orient":"left","values":[36,37,38,39,40],"title":null,"zindex":1}}}},
{"data":{"name":"X"},"mark":{"type":"tick","orient":"horizontal","size":19,"thickness":2,"yOffset":-1,"color":"#ff7a10","clip":true},"encoding":{"x":{"field":"l","type":"quantitative","scale":{"domain":[-0.885,1.885]},"axis":null},"y":{"field":"m","type":"quantitative","axis":{"orient":"right","values":[36.25,36.5,36.75,37.25,37.5,37.75,38.25,38.5,38.75,39.25,39.5,39.75],"title":null}}}},
{"data":{"name":"L"},"mark":{"type":"line","clip":true},"encoding":{"x":{"field":"p","type":"quantitative","scale":{"domain":[-0.0851,1.0851]},"axis":null},"y":{"field":"m","type":"quantitative","axis":null},"color":{"field":"sd","type":"nominal","scale":{"domain":["L","R"],"range":["#1f86cc","#b8358e"]},"legend":null},"detail":{"field":"id"},"order":{"field":"s"}}},
{"data":{"name":"L"},"transform":[{"filter":"datum.s==0"}],"mark":{"type":"tick","orient":"horizontal","size":7,"thickness":1.5,"color":"#ffffff","clip":true},"encoding":{"x":{"field":"p","type":"quantitative","scale":{"domain":[-0.0851,1.0851]},"axis":null},"y":{"field":"m","type":"quantitative","axis":null}}},
{"data":{"name":"L"},"transform":[{"filter":"datum.s==0"}],"mark":{"type":"point","shape":"M-1,0.6L0,-0.6L1,0.6","filled":false,"strokeWidth":1.5,"size":49,"yOffset":3,"opacity":1,"clip":true},"encoding":{"x":{"field":"p","type":"quantitative","scale":{"domain":[-0.0851,1.0851]},"axis":null},"y":{"field":"m","type":"quantitative","axis":null},"color":{"field":"sd","type":"nominal","scale":{"domain":["L","R"],"range":["#1f86cc","#b8358e"]},"legend":null}}},
{"data":{"name":"E"},"mark":{"type":"rect","color":"#1a1a1a","yOffset":-12,"clip":true},"encoding":{"x":{"datum":-200,"type":"quantitative","scale":{"domain":[-1.27,4.27]},"axis":null},"x2":{"datum":200},"y":{"datum":40,"type":"quantitative","axis":null},"y2":{"datum":200}}}
]},
{"width":55,"height":978,"resolve":{"scale":{"x":"independent"},"axis":{"y":"independent"}},"layer":[
{"data":{"name":"E"},"mark":{"type":"rect","fill":"#0d1729","stroke":"#1e3350","clip":true},"encoding":{"x":{"datum":-1.27,"type":"quantitative","scale":{"domain":[-1.27,4.27]},"axis":null},"x2":{"datum":-0.5},"y":{"datum":-200,"type":"quantitative","axis":null},"y2":{"datum":200}}},
{"data":{"name":"E"},"mark":{"type":"rect","fill":"#260c1b","stroke":"#3e1630","clip":true},"encoding":{"x":{"datum":3.5,"type":"quantitative","scale":{"domain":[-1.27,4.27]},"axis":null},"x2":{"datum":4.27},"y":{"datum":-200,"type":"quantitative","axis":null},"y2":{"datum":200}}},
{"data":{"name":"H"},"mark":{"type":"rule","color":"#9cc4e0","strokeWidth":7,"clip":true},"encoding":{"x":{"field":"l","type":"quantitative","scale":{"domain":[-1.27,4.27]},"axis":null},"y":{"field":"m","type":"quantitative","axis":null},"y2":{"field":"e"}}},
{"data":{"name":"H"},"mark":{"type":"rule","color":"#f4faff","strokeWidth":3,"clip":true},"encoding":{"x":{"field":"l","type":"quantitative","scale":{"domain":[-1.27,4.27]},"axis":null},"y":{"field":"m","type":"quantitative","axis":null},"y2":{"field":"e"}}},
{"data":{"name":"C"},"mark":{"type":"tick","orient":"horizontal","size":9,"thickness":3,"yOffset":-2,"color":"#dce6ef","clip":true},"encoding":{"x":{"field":"l","type":"quantitative","scale":{"domain":[-1.27,4.27]},"axis":{"values":[-0.5,0.5,1.5,2.5,3.5],"title":null}},"y":{"field":"m","type":"quantitative","scale":{"domain":[39.96875,45.0625],"nice":false,"zero":false},"axis":{"orient":"left","values":[40,41,42,43,44],"title":null,"zindex":1}}}},
{"data":{"name":"X"},"mark":{"type":"tick","orient":"horizontal","size":19,"thickness":2,"yOffset":-1,"color":"#ff7a10","clip":true},"encoding":{"x":{"field":"l","type":"quantitative","scale":{"domain":[-0.885,1.885]},"axis":null},"y":{"field":"m","type":"quantitative","axis":{"orient":"right","values":[40.25,40.5,40.75,41.25,41.5,41.75,42.25,42.5,42.75,43.25,43.5,43.75],"title":null}}}},
{"data":{"name":"E"},"mark":{"type":"rect","color":"#1a1a1a","yOffset":-12,"clip":true},"encoding":{"x":{"datum":-200,"type":"quantitative","scale":{"domain":[-1.27,4.27]},"axis":null},"x2":{"datum":200},"y":{"datum":44,"type":"quantitative","axis":null},"y2":{"datum":200}}}
]},
{"width":55,"height":978,"resolve":{"scale":{"x":"independent"},"axis":{"y":"independent"}},"layer":[
{"data":{"name":"E"},"mark":{"type":"rect","fill":"#0d1729","stroke":"#1e3350","clip":true},"encoding":{"x":{"datum":-1.27,"type":"quantitative","scale":{"domain":[-1.27,4.27]},"axis":null},"x2":{"datum":-0.5},"y":{"datum":-200,"type":"quantitative","axis":null},"y2":{"datum":200}}},
{"data":{"name":"E"},"mark":{"type":"rect","fill":"#260c1b","stroke":"#3e1630","clip":true},"encoding":{"x":{"datum":3.5,"type":"quantitative","scale":{"domain":[-1.27,4.27]},"axis":null},"x2":{"datum":4.27},"y":{"datum":-200,"type":"quantitative","axis":null},"y2":{"datum":200}}},
{"data":{"name":"H"},"mark":{"type":"rule","color":"#9cc4e0","strokeWidth":7,"clip":true},"encoding":{"x":{"field":"l","type":"quantitative","scale":{"domain":[-1.27,4.27]},"axis":null},"y":{"field":"m","type":"quantitative","axis":null},"y2":{"field":"e"}}},
{"data":{"name":"H"},"mark":{"type":"rule","color":"#f4faff","strokeWidth":3,"clip":true},"encoding":{"x":{"field":"l","type":"quantitative","scale":{"domain":[-1.27,4.27]},"axis":null},"y":{"field":"m","type":"quantitative","axis":null},"y2":{"field":"e"}}},
{"data":{"name":"C"},"mark":{"type":"tick","orient":"horizontal","size":9,"thickness":3,"yOffset":-2,"color":"#dce6ef","clip":true},"encoding":{"x":{"field":"l","type":"quantitative","scale":{"domain":[-1.27,4.27]},"axis":{"values":[-0.5,0.5,1.5,2.5,3.5],"title":null}},"y":{"field":"m","type":"quantitative","scale":{"domain":[43.96875,49.0625],"nice":false,"zero":false},"axis":{"orient":"left","values":[44,45,46,47,48],"title":null,"zindex":1}}}},
{"data":{"name":"X"},"mark":{"type":"tick","orient":"horizontal","size":19,"thickness":2,"yOffset":-1,"color":"#ff7a10","clip":true},"encoding":{"x":{"field":"l","type":"quantitative","scale":{"domain":[-0.885,1.885]},"axis":null},"y":{"field":"m","type":"quantitative","axis":{"orient":"right","values":[44.25,44.5,44.75,45.25,45.5,45.75,46.25,46.5,46.75,47.25,47.5,47.75],"title":null}}}},
{"data":{"name":"E"},"mark":{"type":"rect","color":"#1a1a1a","yOffset":-12,"clip":true},"encoding":{"x":{"datum":-200,"type":"quantitative","scale":{"domain":[-1.27,4.27]},"axis":null},"x2":{"datum":200},"y":{"datum":48,"type":"quantitative","axis":null},"y2":{"datum":200}}}
]},
{"width":55,"height":978,"resolve":{"scale":{"x":"independent"},"axis":{"y":"independent"}},"layer":[
{"data":{"name":"E"},"mark":{"type":"rect","fill":"#0d1729","stroke":"#1e3350","clip":true},"encoding":{"x":{"datum":-1.27,"type":"quantitative","scale":{"domain":[-1.27,4.27]},"axis":null},"x2":{"datum":-0.5},"y":{"datum":-200,"type":"quantitative","axis":null},"y2":{"datum":200}}},
{"data":{"name":"E"},"mark":{"type":"rect","fill":"#260c1b","stroke":"#3e1630","clip":true},"encoding":{"x":{"datum":3.5,"type":"quantitative","scale":{"domain":[-1.27,4.27]},"axis":null},"x2":{"datum":4.27},"y":{"datum":-200,"type":"quantitative","axis":null},"y2":{"datum":200}}},
{"data":{"name":"C"},"mark":{"type":"tick","orient":"horizontal","size":9,"thickness":3,"yOffset":-2,"color":"#dce6ef","clip":true},"encoding":{"x":{"field":"l","type":"quantitative","scale":{"domain":[-1.27,4.27]},"axis":{"values":[-0.5,0.5,1.5,2.5,3.5],"title":null}},"y":{"field":"m","type":"quantitative","scale":{"domain":[47.96875,53.0625],"nice":false,"zero":false},"axis":{"orient":"left","values":[48,49,50,51,52],"title":null,"zindex":1}}}},
{"data":{"name":"X"},"mark":{"type":"tick","orient":"horizontal","size":19,"thickness":2,"yOffset":-1,"color":"#ff7a10","clip":true},"encoding":{"x":{"field":"l","type":"quantitative","scale":{"domain":[-0.885,1.885]},"axis":null},"y":{"field":"m","type":"quantitative","axis":{"orient":"right","values":[48.25,48.5,48.75,49.25,49.5,49.75,50.25,50.5,50.75,51.25,51.5,51.75],"title":null}}}},
{"data":{"name":"E"},"mark":{"type":"rect","color":"#1a1a1a","yOffset":-12,"clip":true},"encoding":{"x":{"datum":-200,"type":"quantitative","scale":{"domain":[-1.27,4.27]},"axis":null},"x2":{"datum":200},"y":{"datum":52,"type":"quantitative","axis":null},"y2":{"datum":200}}}
]},
{"width":55,"height":978,"resolve":{"scale":{"x":"independent"},"axis":{"y":"independent"}},"layer":[
{"data":{"name":"E"},"mark":{"type":"rect","fill":"#0d1729","stroke":"#1e3350","clip":true},"encoding":{"x":{"datum":-1.27,"type":"quantitative","scale":{"domain":[-1.27,4.27]},"axis":null},"x2":{"datum":-0.5},"y":{"datum":-200,"type":"quantitative","axis":null},"y2":{"datum":200}}},
{"data":{"name":"E"},"mark":{"type":"rect","fill":"#260c1b","stroke":"#3e1630","clip":true},"encoding":{"x":{"datum":3.5,"type":"quantitative","scale":{"domain":[-1.27,4.27]},"axis":null},"x2":{"datum":4.27},"y":{"datum":-200,"type":"quantitative","axis":null},"y2":{"datum":200}}},
{"data":{"name":"C"},"mark":{"type":"tick","orient":"horizontal","size":9,"thickness":3,"yOffset":-2,"color":"#dce6ef","clip":true},"encoding":{"x":{"field":"l","type":"quantitative","scale":{"domain":[-1.27,4.27]},"axis":{"values":[-0.5,0.5,1.5,2.5,3.5],"title":null}},"y":{"field":"m","type":"quantitative","scale":{"domain":[51.96875,57.0625],"nice":false,"zero":false},"axis":{"orient":"left","values":[52,53,54,55,56],"title":null,"zindex":1}}}},
{"data":{"name":"X"},"mark":{"type":"tick","orient":"horizontal","size":19,"thickness":2,"yOffset":-1,"color":"#ff7a10","clip":true},"encoding":{"x":{"field":"l","type":"quantitative","scale":{"domain":[-0.885,1.885]},"axis":null},"y":{"field":"m","type":"quantitative","axis":{"orient":"right","values":[52.25,52.5,52.75,53.25,53.5,53.75,54.25,54.5,54.75,55.25,55.5,55.75],"title":null}}}},
{"data":{"name":"L"},"mark":{"type":"line","clip":true},"encoding":{"x":{"field":"p","type":"quantitative","scale":{"domain":[-0.0851,1.0851]},"axis":null},"y":{"field":"m","type":"quantitative","axis":null},"color":{"field":"sd","type":"nominal","scale":{"domain":["L","R"],"range":["#1f86cc","#b8358e"]},"legend":null},"detail":{"field":"id"},"order":{"field":"s"}}},
{"data":{"name":"L"},"transform":[{"filter":"datum.s==0"}],"mark":{"type":"tick","orient":"horizontal","size":7,"thickness":1.5,"color":"#ffffff","clip":true},"encoding":{"x":{"field":"p","type":"quantitative","scale":{"domain":[-0.0851,1.0851]},"axis":null},"y":{"field":"m","type":"quantitative","axis":null}}},
{"data":{"name":"L"},"transform":[{"filter":"datum.s==0"}],"mark":{"type":"point","shape":"M-1,0.6L0,-0.6L1,0.6","filled":false,"strokeWidth":1.5,"size":49,"yOffset":3,"opacity":1,"clip":true},"encoding":{"x":{"field":"p","type":"quantitative","scale":{"domain":[-0.0851,1.0851]},"axis":null},"y":{"field":"m","type":"quantitative","axis":null},"color":{"field":"sd","type":"nominal","scale":{"domain":["L","R"],"range":["#1f86cc","#b8358e"]},"legend":null}}},
{"data":{"name":"E"},"mark":{"type":"rect","color":"#1a1a1a","yOffset":-12,"clip":true},"encoding":{"x":{"datum":-200,"type":"quantitative","scale":{"domain":[-1.27,4.27]},"axis":null},"x2":{"datum":200},"y":{"datum":56,"type":"quantitative","axis":null},"y2":{"datum":200}}}
]},
{"width":55,"height":978,"resolve":{"scale":{"x":"independent"},"axis":{"y":"independent"}},"layer":[
{"data":{"name":"E"},"mark":{"type":"rect","fill":"#0d1729","stroke":"#1e3350","clip":true},"encoding":{"x":{"datum":-1.27,"type":"quantitative","scale":{"domain":[-1.27,4.27]},"axis":null},"x2":{"datum":-0.5},"y":{"datum":-200,"type":"quantitative","axis":null},"y2":{"datum":200}}},
{"data":{"name":"E"},"mark":{"type":"rect","fill":"#260c1b","stroke":"#3e1630","clip":true},"encoding":{"x":{"datum":3.5,"type":"quantitative","scale":{"domain":[-1.27,4.27]},"axis":null},"x2":{"datum":4.27},"y":{"datum":-200,"type":"quantitative","axis":null},"y2":{"datum":200}}},
{"data":{"name":"C"},"mark":{"type":"tick","orient":"horizontal","size":9,"thickness":3,"yOffset":-2,"color":"#dce6ef","clip":true},"encoding":{"x":{"field":"l","type":"quantitative","scale":{"domain":[-1.27,4.27]},"axis":{"values":[-0.5,0.5,1.5,2.5,3.5],"title":null}},"y":{"field":"m","type":"quantitative","scale":{"domain":[55.96875,61.0625],"nice":false,"zero":false},"axis":{"orient":"left","values":[56,57,58,59,60,61],"title":null,"zindex":1}}}},
{"data":{"name":"X"},"mark":{"type":"tick","orient":"horizontal","size":19,"thickness":2,"yOffset":-1,"color":"#ff7a10","clip":true},"encoding":{"x":{"field":"l","type":"quantitative","scale":{"domain":[-0.885,1.885]},"axis":null},"y":{"field":"m","type":"quantitative","axis":{"orient":"right","values":[56.25,56.5,56.75,57.25,57.5,57.75,58.25,58.5,58.75,59.25,59.5,59.75,60.25,60.5,60.75],"title":null}}}},
{"data":{"name":"L"},"mark":{"type":"line","clip":true},"encoding":{"x":{"field":"p","type":"quantitative","scale":{"domain":[-0.0851,1.0851]},"axis":null},"y":{"field":"m","type":"quantitative","axis":null},"color":{"field":"sd","type":"nominal","scale":{"domain":["L","R"],"range":["#1f86cc","#b8358e"]},"legend":null},"detail":{"field":"id"},"order":{"field":"s"}}},
{"data":{"name":"L"},"transform":[{"filter":"datum.s==0"}],"mark":{"type":"tick","orient":"horizontal","size":7,"thickness":1.5,"color":"#ffffff","clip":true},"encoding":{"x":{"field":"p","type":"quantitative","scale":{"domain":[-0.0851,1.0851]},"axis":null},"y":{"field":"m","type":"quantitative","axis":null}}},
{"data":{"name":"L"},"transform":[{"filter":"datum.s==0"}],"mark":{"type":"point","shape":"M-1,0.6L0,-0.6L1,0.6","filled":false,"strokeWidth":1.5,"size":49,"yOffset":3,"opacity":1,"clip":true},"encoding":{"x":{"field":"p","type":"quantitative","scale":{"domain":[-0.0851,1.0851]},"axis":null},"y":{"field":"m","type":"quantitative","axis":null},"color":{"field":"sd","type":"nominal","scale":{"domain":["L","R"],"range":["#1f86cc","#b8358e"]},"legend":null}}},
{"data":{"name":"E"},"mark":{"type":"rect","color":"#1a1a1a","yOffset":-12,"clip":true},"encoding":{"x":{"datum":-200,"type":"quantitative","scale":{"domain":[-1.27,4.27]},"axis":null},"x2":{"datum":200},"y":{"datum":61,"type":"quantitative","axis":null},"y2":{"datum":200}}}
]},
{"width":55,"height":978,"resolve":{"scale":{"x":"independent"},"axis":{"y":"independent"}},"layer":[
{"data":{"name":"E"},"mark":{"type":"rect","fill":"#0d1729","stroke":"#1e3350","clip":true},"encoding":{"x":{"datum":-1.27,"type":"quantitative","scale":{"domain":[-1.27,4.27]},"axis":null},"x2":{"datum":-0.5},"y":{"datum":-200,"type":"quantitative","axis":null},"y2":{"datum":200}}},
{"data":{"name":"E"},"mark":{"type":"rect","fill":"#260c1b","stroke":"#3e1630","clip":true},"encoding":{"x":{"datum":3.5,"type":"quantitative","scale":{"domain":[-1.27,4.27]},"axis":null},"x2":{"datum":4.27},"y":{"datum":-200,"type":"quantitative","axis":null},"y2":{"datum":200}}},
{"data":{"name":"F"},"mark":{"type":"rule","color":"#f06a10","strokeWidth":19,"clip":true},"encoding":{"x":{"field":"l","type":"quantitative","scale":{"domain":[-0.885,1.885]},"axis":null},"y":{"field":"m","type":"quantitative","axis":null},"y2":{"field":"e"}}},
{"data":{"name":"F"},"mark":{"type":"rule","color":"#843a0e","strokeWidth":16,"clip":true},"encoding":{"x":{"field":"l","type":"quantitative","scale":{"domain":[-0.885,1.885]},"axis":null},"y":{"field":"m","type":"quantitative","axis":null},"y2":{"field":"e"}}},
{"data":{"name":"C"},"mark":{"type":"tick","orient":"horizontal","size":9,"thickness":3,"yOffset":-2,"color":"#dce6ef","clip":true},"encoding":{"x":{"field":"l","type":"quantitative","scale":{"domain":[-1.27,4.27]},"axis":{"values":[-0.5,0.5,1.5,2.5,3.5],"title":null}},"y":{"field":"m","type":"quantitative","scale":{"domain":[60.96875,66.0625],"nice":false,"zero":false},"axis":{"orient":"left","values":[61,62,63,64,65],"title":null,"zindex":1}}}},
{"data":{"name":"X"},"mark":{"type":"tick","orient":"horizontal","size":19,"thickness":2,"yOffset":-1,"color":"#ff7a10","clip":true},"encoding":{"x":{"field":"l","type":"quantitative","scale":{"domain":[-0.885,1.885]},"axis":null},"y":{"field":"m","type":"quantitative","axis":{"orient":"right","values":[61.25,61.5,61.75,62.25,62.5,62.75,63.25,63.5,63.75,64.25,64.5,64.75],"title":null}}}},
{"data":{"name":"E"},"mark":{"type":"rect","color":"#1a1a1a","yOffset":-12,"clip":true},"encoding":{"x":{"datum":-200,"type":"quantitative","scale":{"domain":[-1.27,4.27]},"axis":null},"x2":{"datum":200},"y":{"datum":65,"type":"quantitative","axis":null},"y2":{"datum":200}}}
]},
{"width":55,"height":978,"resolve":{"scale":{"x":"independent"},"axis":{"y":"independent"}},"layer":[
{"data":{"name":"E"},"mark":{"type":"rect","fill":"#0d1729","stroke":"#1e3350","clip":true},"encoding":{"x":{"datum":-1.27,"type":"quantitative","scale":{"domain":[-1.27,4.27]},"axis":null},"x2":{"datum":-0.5},"y":{"datum":-200,"type":"quantitative","axis":null},"y2":{"datum":200}}},
{"data":{"name":"E"},"mark":{"type":"rect","fill":"#260c1b","stroke":"#3e1630","clip":true},"encoding":{"x":{"datum":3.5,"type":"quantitative","scale":{"domain":[-1.27,4.27]},"axis":null},"x2":{"datum":4.27},"y":{"datum":-200,"type":"quantitative","axis":null},"y2":{"datum":200}}},
{"data":{"name":"F"},"mark":{"type":"rule","color":"#f06a10","strokeWidth":19,"clip":true},"encoding":{"x":{"field":"l","type":"quantitative","scale":{"domain":[-0.885,1.885]},"axis":null},"y":{"field":"m","type":"quantitative","axis":null},"y2":{"field":"e"}}},
{"data":{"name":"F"},"mark":{"type":"rule","color":"#843a0e","strokeWidth":16,"clip":true},"encoding":{"x":{"field":"l","type":"quantitative","scale":{"domain":[-0.885,1.885]},"axis":null},"y":{"field":"m","type":"quantitative","axis":null},"y2":{"field":"e"}}},
{"data":{"name":"H"},"mark":{"type":"rule","color":"#9cc4e0","strokeWidth":7,"clip":true},"encoding":{"x":{"field":"l","type":"quantitative","scale":{"domain":[-1.27,4.27]},"axis":null},"y":{"field":"m","type":"quantitative","axis":null},"y2":{"field":"e"}}},
{"data":{"name":"H"},"mark":{"type":"rule","color":"#f4faff","strokeWidth":3,"clip":true},"encoding":{"x":{"field":"l","type":"quantitative","scale":{"domain":[-1.27,4.27]},"axis":null},"y":{"field":"m","type":"quantitative","axis":null},"y2":{"field":"e"}}},
{"data":{"name":"C"},"mark":{"type":"tick","orient":"horizontal","size":9,"thickness":3,"yOffset":-2,"color":"#dce6ef","clip":true},"encoding":{"x":{"field":"l","type":"quantitative","scale":{"domain":[-1.27,4.27]},"axis":{"values":[-0.5,0.5,1.5,2.5,3.5],"title":null}},"y":{"field":"m","type":"quantitative","scale":{"domain":[64.96875,70.0625],"nice":false,"zero":false},"axis":{"orient":"left","values":[65,66,67,68,69],"title":null,"zindex":1}}}},
{"data":{"name":"X"},"mark":{"type":"tick","orient":"horizontal","size":19,"thickness":2,"yOffset":-1,"color":"#ff7a10","clip":true},"encoding":{"x":{"field":"l","type":"quantitative","scale":{"domain":[-0.885,1.885]},"axis":null},"y":{"field":"m","type":"quantitative","axis":{"orient":"right","values":[65.25,65.5,65.75,66.25,66.5,66.75,67.25,67.5,67.75,68.25,68.5,68.75],"title":null}}}},
{"data":{"name":"E"},"mark":{"type":"rect","color":"#1a1a1a","yOffset":-12,"clip":true},"encoding":{"x":{"datum":-200,"type":"quantitative","scale":{"domain":[-1.27,4.27]},"axis":null},"x2":{"datum":200},"y":{"datum":69,"type":"quantitative","axis":null},"y2":{"datum":200}}}
]},
{"width":55,"height":978,"resolve":{"scale":{"x":"independent"},"axis":{"y":"independent"}},"layer":[
{"data":{"name":"E"},"mark":{"type":"rect","fill":"#0d1729","stroke":"#1e3350","clip":true},"encoding":{"x":{"datum":-1.27,"type":"quantitative","scale":{"domain":[-1.27,4.27]},"axis":null},"x2":{"datum":-0.5},"y":{"datum":-200,"type":"quantitative","axis":null},"y2":{"datum":200}}},
{"data":{"name":"E"},"mark":{"type":"rect","fill":"#260c1b","stroke":"#3e1630","clip":true},"encoding":{"x":{"datum":3.5,"type":"quantitative","scale":{"domain":[-1.27,4.27]},"axis":null},"x2":{"datum":4.27},"y":{"datum":-200,"type":"quantitative","axis":null},"y2":{"datum":200}}},
{"data":{"name":"H"},"mark":{"type":"rule","color":"#9cc4e0","strokeWidth":7,"clip":true},"encoding":{"x":{"field":"l","type":"quantitative","scale":{"domain":[-1.27,4.27]},"axis":null},"y":{"field":"m","type":"quantitative","axis":null},"y2":{"field":"e"}}},
{"data":{"name":"H"},"mark":{"type":"rule","color":"#f4faff","strokeWidth":3,"clip":true},"encoding":{"x":{"field":"l","type":"quantitative","scale":{"domain":[-1.27,4.27]},"axis":null},"y":{"field":"m","type":"quantitative","axis":null},"y2":{"field":"e"}}},
{"data":{"name":"C"},"mark":{"type":"tick","orient":"horizontal","size":9,"thickness":3,"yOffset":-2,"color":"#dce6ef","clip":true},"encoding":{"x":{"field":"l","type":"quantitative","scale":{"domain":[-1.27,4.27]},"axis":{"values":[-0.5,0.5,1.5,2.5,3.5],"title":null}},"y":{"field":"m","type":"quantitative","scale":{"domain":[68.96875,74.0625],"nice":false,"zero":false},"axis":{"orient":"left","values":[69,70,71,72,73],"title":null,"zindex":1}}}},
{"data":{"name":"X"},"mark":{"type":"tick","orient":"horizontal","size":19,"thickness":2,"yOffset":-1,"color":"#ff7a10","clip":true},"encoding":{"x":{"field":"l","type":"quantitative","scale":{"domain":[-0.885,1.885]},"axis":null},"y":{"field":"m","type":"quantitative","axis":{"orient":"right","values":[69.25,69.5,69.75,70.25,70.5,70.75,71.25,71.5,71.75,72.25,72.5,72.75],"title":null}}}},
{"data":{"name":"L"},"mark":{"type":"line","clip":true},"encoding":{"x":{"field":"p","type":"quantitative","scale":{"domain":[-0.0851,1.0851]},"axis":null},"y":{"field":"m","type":"quantitative","axis":null},"color":{"field":"sd","type":"nominal","scale":{"domain":["L","R"],"range":["#1f86cc","#b8358e"]},"legend":null},"detail":{"field":"id"},"order":{"field":"s"}}},
{"data":{"name":"L"},"transform":[{"filter":"datum.s==0"}],"mark":{"type":"tick","orient":"horizontal","size":7,"thickness":1.5,"color":"#ffffff","clip":true},"encoding":{"x":{"field":"p","type":"quantitative","scale":{"domain":[-0.0851,1.0851]},"axis":null},"y":{"field":"m","type":"quantitative","axis":null}}},
{"data":{"name":"E"},"mark":{"type":"rect","color":"#1a1a1a","yOffset":-12,"clip":true},"encoding":{"x":{"datum":-200,"type":"quantitative","scale":{"domain":[-1.27,4.27]},"axis":null},"x2":{"datum":200},"y":{"datum":73,"type":"quantitative","axis":null},"y2":{"datum":200}}}
]},
{"width":55,"height":978,"resolve":{"scale":{"x":"independent"},"axis":{"y":"independent"}},"layer":[
{"data":{"name":"E"},"mark":{"type":"rect","fill":"#0d1729","stroke":"#1e3350","clip":true},"encoding":{"x":{"datum":-1.27,"type":"quantitative","scale":{"domain":[-1.27,4.27]},"axis":null},"x2":{"datum":-0.5},"y":{"datum":-200,"type":"quantitative","axis":null},"y2":{"datum":200}}},
{"data":{"name":"E"},"mark":{"type":"rect","fill":"#260c1b","stroke":"#3e1630","clip":true},"encoding":{"x":{"datum":3.5,"type":"quantitative","scale":{"domain":[-1.27,4.27]},"axis":null},"x2":{"datum":4.27},"y":{"datum":-200,"type":"quantitative","axis":null},"y2":{"datum":200}}},
{"data":{"name":"C"},"mark":{"type":"tick","orient":"horizontal","size":9,"thickness":3,"yOffset":-2,"color":"#dce6ef","clip":true},"encoding":{"x":{"field":"l","type":"quantitative","scale":{"domain":[-1.27,4.27]},"axis":{"values":[-0.5,0.5,1.5,2.5,3.5],"title":null}},"y":{"field":"m","type":"quantitative","scale":{"domain":[72.96875,78.0625],"nice":false,"zero":false},"axis":{"orient":"left","values":[73,74,75,76,77],"title":null,"zindex":1}}}},
{"data":{"name":"X"},"mark":{"type":"tick","orient":"horizontal","size":19,"thickness":2,"yOffset":-1,"color":"#ff7a10","clip":true},"encoding":{"x":{"field":"l","type":"quantitative","scale":{"domain":[-0.885,1.885]},"axis":null},"y":{"field":"m","type":"quantitative","axis":{"orient":"right","values":[73.25,73.5,73.75,74.25,74.5,74.75,75.25,75.5,75.75,76.25,76.5,76.75],"title":null}}}},
{"data":{"name":"L"},"mark":{"type":"line","clip":true},"encoding":{"x":{"field":"p","type":"quantitative","scale":{"domain":[-0.0851,1.0851]},"axis":null},"y":{"field":"m","type":"quantitative","axis":null},"color":{"field":"sd","type":"nominal","scale":{"domain":["L","R"],"range":["#1f86cc","#b8358e"]},"legend":null},"detail":{"field":"id"},"order":{"field":"s"}}},
{"data":{"name":"L"},"transform":[{"filter":"datum.s==0"}],"mark":{"type":"tick","orient":"horizontal","size":7,"thickness":1.5,"color":"#ffffff","clip":true},"encoding":{"x":{"field":"p","type":"quantitative","scale":{"domain":[-0.0851,1.0851]},"axis":null},"y":{"field":"m","type":"quantitative","axis":null}}},
{"data":{"name":"L"},"transform":[{"filter":"datum.s==0"}],"mark":{"type":"point","shape":"M-1,0.6L0,-0.6L1,0.6","filled":false,"strokeWidth":1.5,"size":49,"yOffset":3,"opacity":1,"clip":true},"encoding":{"x":{"field":"p","type":"quantitative","scale":{"domain":[-0.0851,1.0851]},"axis":null},"y":{"field":"m","type":"quantitative","axis":null},"color":{"field":"sd","type":"nominal","scale":{"domain":["L","R"],"range":["#1f86cc","#b8358e"]},"legend":null}}},
{"data":{"name":"E"},"mark":{"type":"rect","color":"#1a1a1a","yOffset":-12,"clip":true},"encoding":{"x":{"datum":-200,"type":"quantitative","scale":{"domain":[-1.27,4.27]},"axis":null},"x2":{"datum":200},"y":{"datum":77,"type":"quantitative","axis":null},"y2":{"datum":200}}}
]},
{"width":55,"height":978,"resolve":{"scale":{"x":"independent"},"axis":{"y":"independent"}},"layer":[
{"data":{"name":"E"},"mark":{"type":"rect","fill":"#0d1729","stroke":"#1e3350","clip":true},"encoding":{"x":{"datum":-1.27,"type":"quantitative","scale":{"domain":[-1.27,4.27]},"axis":null},"x2":{"datum":-0.5},"y":{"datum":-200,"type":"quantitative","axis":null},"y2":{"datum":200}}},
{"data":{"name":"E"},"mark":{"type":"rect","fill":"#260c1b","stroke":"#3e1630","clip":true},"encoding":{"x":{"datum":3.5,"type":"quantitative","scale":{"domain":[-1.27,4.27]},"axis":null},"x2":{"datum":4.27},"y":{"datum":-200,"type":"quantitative","axis":null},"y2":{"datum":200}}},
{"data":{"name":"C"},"mark":{"type":"tick","orient":"horizontal","size":9,"thickness":3,"yOffset":-2,"color":"#dce6ef","clip":true},"encoding":{"x":{"field":"l","type":"quantitative","scale":{"domain":[-1.27,4.27]},"axis":{"values":[-0.5,0.5,1.5,2.5,3.5],"title":null}},"y":{"field":"m","type":"quantitative","scale":{"domain":[76.96875,82.0625],"nice":false,"zero":false},"axis":{"orient":"left","values":[77,78,79,80,81],"title":null,"zindex":1}}}},
{"data":{"name":"X"},"mark":{"type":"tick","orient":"horizontal","size":19,"thickness":2,"yOffset":-1,"color":"#ff7a10","clip":true},"encoding":{"x":{"field":"l","type":"quantitative","scale":{"domain":[-0.885,1.885]},"axis":null},"y":{"field":"m","type":"quantitative","axis":{"orient":"right","values":[77.25,77.5,77.75,78.25,78.5,78.75,79.25,79.5,79.75,80.25,80.5,80.75],"title":null}}}},
{"data":{"name":"L"},"mark":{"type":"line","clip":true},"encoding":{"x":{"field":"p","type":"quantitative","scale":{"domain":[-0.0851,1.0851]},"axis":null},"y":{"field":"m","type":"quantitative","axis":null},"color":{"field":"sd","type":"nominal","scale":{"domain":["L","R"],"range":["#1f86cc","#b8358e"]},"legend":null},"detail":{"field":"id"},"order":{"field":"s"}}},
{"data":{"name":"L"},"transform":[{"filter":"datum.s==0"}],"mark":{"type":"tick","orient":"horizontal","size":7,"thickness":1.5,"color":"#ffffff","clip":true},"encoding":{"x":{"field":"p","type":"quantitative","scale":{"domain":[-0.0851,1.0851]},"axis":null},"y":{"field":"m","type":"quantitative","axis":null}}},
{"data":{"name":"L"},"transform":[{"filter":"datum.s==0"}],"mark":{"type":"point","shape":"M-1,0.6L0,-0.6L1,0.6","filled":false,"strokeWidth":1.5,"size":49,"yOffset":3,"opacity":1,"clip":true},"encoding":{"x":{"field":"p","type":"quantitative","scale":{"domain":[-0.0851,1.0851]},"axis":null},"y":{"field":"m","type":"quantitative","axis":null},"color":{"field":"sd","type":"nominal","scale":{"domain":["L","R"],"range":["#1f86cc","#b8358e"]},"legend":null}}},
{"data":{"name":"E"},"mark":{"type":"rect","color":"#1a1a1a","yOffset":-12,"clip":true},"encoding":{"x":{"datum":-200,"type":"quantitative","scale":{"domain":[-1.27,4.27]},"axis":null},"x2":{"datum":200},"y":{"datum":81,"type":"quantitative","axis":null},"y2":{"datum":200}}}
]},
{"width":55,"height":978,"resolve":{"scale":{"x":"independent"},"axis":{"y":"independent"}},"layer":[
{"data":{"name":"E"},"mark":{"type":"rect","fill":"#0d1729","stroke":"#1e3350","clip":true},"encoding":{"x":{"datum":-1.27,"type":"quantitative","scale":{"domain":[-1.27,4.27]},"axis":null},"x2":{"datum":-0.5},"y":{"datum":-200,"type":"quantitative","axis":null},"y2":{"datum":200}}},
{"data":{"name":"E"},"mark":{"type":"rect","fill":"#260c1b","stroke":"#3e1630","clip":true},"encoding":{"x":{"datum":3.5,"type":"quantitative","scale":{"domain":[-1.27,4.27]},"axis":null},"x2":{"datum":4.27},"y":{"datum":-200,"type":"quantitative","axis":null},"y2":{"datum":200}}},
{"data":{"name":"F"},"mark":{"type":"rule","color":"#f06a10","strokeWidth":19,"clip":true},"encoding":{"x":{"field":"l","type":"quantitative","scale":{"domain":[-0.885,1.885]},"axis":null},"y":{"field":"m","type":"quantitative","axis":null},"y2":{"field":"e"}}},
{"data":{"name":"F"},"mark":{"type":"rule","color":"#843a0e","strokeWidth":16,"clip":true},"encoding":{"x":{"field":"l","type":"quantitative","scale":{"domain":[-0.885,1.885]},"axis":null},"y":{"field":"m","type":"quantitative","axis":null},"y2":{"field":"e"}}},
{"data":{"name":"C"},"mark":{"type":"tick","orient":"horizontal","size":9,"thickness":3,"yOffset":-2,"color":"#dce6ef","clip":true},"encoding":{"x":{"field":"l","type":"quantitative","scale":{"domain":[-1.27,4.27]},"axis":{"values":[-0.5,0.5,1.5,2.5,3.5],"title":null}},"y":{"field":"m","type":"quantitative","scale":{"domain":[80.96875,86.0625],"nice":false,"zero":false},"axis":{"orient":"left","values":[81,82,83,84,85],"title":null,"zindex":1}}}},
{"data":{"name":"X"},"mark":{"type":"tick","orient":"horizontal","size":19,"thickness":2,"yOffset":-1,"color":"#ff7a10","clip":true},"encoding":{"x":{"field":"l","type":"quantitative","scale":{"domain":[-0.885,1.885]},"axis":null},"y":{"field":"m","type":"quantitative","axis":{"orient":"right","values":[81.25,81.5,81.75,82.25,82.5,82.75,83.25,83.5,83.75,84.25,84.5,84.75],"title":null}}}},
{"data":{"name":"L"},"mark":{"type":"line","clip":true},"encoding":{"x":{"field":"p","type":"quantitative","scale":{"domain":[-0.0851,1.0851]},"axis":null},"y":{"field":"m","type":"quantitative","axis":null},"color":{"field":"sd","type":"nominal","scale":{"domain":["L","R"],"range":["#1f86cc","#b8358e"]},"legend":null},"detail":{"field":"id"},"order":{"field":"s"}}},
{"data":{"name":"E"},"mark":{"type":"rect","color":"#1a1a1a","yOffset":-12,"clip":true},"encoding":{"x":{"datum":-200,"type":"quantitative","scale":{"domain":[-1.27,4.27]},"axis":null},"x2":{"datum":200},"y":{"datum":85,"type":"quantitative","axis":null},"y2":{"datum":200}}}
]},
{"width":55,"height":978,"resolve":{"scale":{"x":"independent"},"axis":{"y":"independent"}},"layer":[
{"data":{"name":"E"},"mark":{"type":"rect","fill":"#0d1729","stroke":"#1e3350","clip":true},"encoding":{"x":{"datum":-1.27,"type":"quantitative","scale":{"domain":[-1.27,4.27]},"axis":null},"x2":{"datum":-0.5},"y":{"datum":-200,"type":"quantitative","axis":null},"y2":{"datum":200}}},
{"data":{"name":"E"},"mark":{"type":"rect","fill":"#260c1b","stroke":"#3e1630","clip":true},"encoding":{"x":{"datum":3.5,"type":"quantitative","scale":{"domain":[-1.27,4.27]},"axis":null},"x2":{"datum":4.27},"y":{"datum":-200,"type":"quantitative","axis":null},"y2":{"datum":200}}},
{"data":{"name":"F"},"mark":{"type":"rule","color":"#f06a10","strokeWidth":19,"clip":true},"encoding":{"x":{"field":"l","type":"quantitative","scale":{"domain":[-0.885,1.885]},"axis":null},"y":{"field":"m","type":"quantitative","axis":null},"y2":{"field":"e"}}},
{"data":{"name":"F"},"mark":{"type":"rule","color":"#843a0e","strokeWidth":16,"clip":true},"encoding":{"x":{"field":"l","type":"quantitative","scale":{"domain":[-0.885,1.885]},"axis":null},"y":{"field":"m","type":"quantitative","axis":null},"y2":{"field":"e"}}},
{"data":{"name":"C"},"mark":{"type":"tick","orient":"horizontal","size":9,"thickness":3,"yOffset":-2,"color":"#dce6ef","clip":true},"encoding":{"x":{"field":"l","type":"quantitative","scale":{"domain":[-1.27,4.27]},"axis":{"values":[-0.5,0.5,1.5,2.5,3.5],"title":null}},"y":{"field":"m","type":"quantitative","scale":{"domain":[84.96875,90.0625],"nice":false,"zero":false},"axis":{"orient":"left","values":[85,86,87,88,89],"title":null,"zindex":1}}}},
{"data":{"name":"X"},"mark":{"type":"tick","orient":"horizontal","size":19,"thickness":2,"yOffset":-1,"color":"#ff7a10","clip":true},"encoding":{"x":{"field":"l","type":"quantitative","scale":{"domain":[-0.885,1.885]},"axis":null},"y":{"field":"m","type":"quantitative","axis":{"orient":"right","values":[85.25,85.5,85.75,86.25,86.5,86.75,87.25,87.5,87.75,88.25,88.5,88.75],"title":null}}}},
{"data":{"name":"L"},"mark":{"type":"line","clip":true},"encoding":{"x":{"field":"p","type":"quantitative","scale":{"domain":[-0.0851,1.0851]},"axis":null},"y":{"field":"m","type":"quantitative","axis":null},"color":{"field":"sd","type":"nominal","scale":{"domain":["L","R"],"range":["#1f86cc","#b8358e"]},"legend":null},"detail":{"field":"id"},"order":{"field":"s"}}},
{"data":{"name":"L"},"transform":[{"filter":"datum.s==0"}],"mark":{"type":"tick","orient":"horizontal","size":7,"thickness":1.5,"color":"#ffffff","clip":true},"encoding":{"x":{"field":"p","type":"quantitative","scale":{"domain":[-0.0851,1.0851]},"axis":null},"y":{"field":"m","type":"quantitative","axis":null}}},
{"data":{"name":"E"},"mark":{"type":"rect","color":"#1a1a1a","yOffset":-12,"clip":true},"encoding":{"x":{"datum":-200,"type":"quantitative","scale":{"domain":[-1.27,4.27]},"axis":null},"x2":{"datum":200},"y":{"datum":89,"type":"quantitative","axis":null},"y2":{"datum":200}}}
]},
{"width":55,"height":978,"resolve":{"scale":{"x":"independent"},"axis":{"y":"independent"}},"layer":[
{"data":{"name":"E"},"mark":{"type":"rect","fill":"#0d1729","stroke":"#1e3350","clip":true},"encoding":{"x":{"datum":-1.27,"type":"quantitative","scale":{"domain":[-1.27,4.27]},"axis":null},"x2":{"datum":-0.5},"y":{"datum":-200,"type":"quantitative","axis":null},"y2":{"datum":200}}},
{"data":{"name":"E"},"mark":{"type":"rect","fill":"#260c1b","stroke":"#3e1630","clip":true},"encoding":{"x":{"datum":3.5,"type":"quantitative","scale":{"domain":[-1.27,4.27]},"axis":null},"x2":{"datum":4.27},"y":{"datum":-200,"type":"quantitative","axis":null},"y2":{"datum":200}}},
{"data":{"name":"C"},"mark":{"type":"tick","orient":"horizontal","size":9,"thickness":3,"yOffset":-2,"color":"#dce6ef","clip":true},"encoding":{"x":{"field":"l","type":"quantitative","scale":{"domain":[-1.27,4.27]},"axis":{"values":[-0.5,0.5,1.5,2.5,3.5],"title":null}},"y":{"field":"m","type":"quantitative","scale":{"domain":[88.96875,94.0625],"nice":false,"zero":false},"axis":{"orient":"left","values":[89,90,91,92,93],"title":null,"zindex":1}}}},
{"data":{"name":"X"},"mark":{"type":"tick","orient":"horizontal","size":19,"thickness":2,"yOffset":-1,"color":"#ff7a10","clip":true},"encoding":{"x":{"field":"l","type":"quantitative","scale":{"domain":[-0.885,1.885]},"axis":null},"y":{"field":"m","type":"quantitative","axis":{"orient":"right","values":[89.25,89.5,89.75,90.25,90.5,90.75,91.25,91.5,91.75,92.25,92.5,92.75],"title":null}}}},
{"data":{"name":"L"},"mark":{"type":"line","clip":true},"encoding":{"x":{"field":"p","type":"quantitative","scale":{"domain":[-0.0851,1.0851]},"axis":null},"y":{"field":"m","type":"quantitative","axis":null},"color":{"field":"sd","type":"nominal","scale":{"domain":["L","R"],"range":["#1f86cc","#b8358e"]},"legend":null},"detail":{"field":"id"},"order":{"field":"s"}}},
{"data":{"name":"L"},"transform":[{"filter":"datum.s==0"}],"mark":{"type":"tick","orient":"horizontal","size":7,"thickness":1.5,"color":"#ffffff","clip":true},"encoding":{"x":{"field":"p","type":"quantitative","scale":{"domain":[-0.0851,1.0851]},"axis":null},"y":{"field":"m","type":"quantitative","axis":null}}},
{"data":{"name":"L"},"transform":[{"filter":"datum.s==0"}],"mark":{"type":"point","shape":"M-1,0.6L0,-0.6L1,0.6","filled":false,"strokeWidth":1.5,"size":49,"yOffset":3,"opacity":1,"clip":true},"encoding":{"x":{"field":"p","type":"quantitative","scale":{"domain":[-0.0851,1.0851]},"axis":null},"y":{"field":"m","type":"quantitative","axis":null},"color":{"field":"sd","type":"nominal","scale":{"domain":["L","R"],"range":["#1f86cc","#b8358e"]},"legend":null}}},
{"data":{"name":"E"},"mark":{"type":"rect","color":"#1a1a1a","yOffset":-12,"clip":true},"encoding":{"x":{"datum":-200,"type":"quantitative","scale":{"domain":[-1.27,4.27]},"axis":null},"x2":{"datum":200},"y":{"datum":93,"type":"quantitative","axis":null},"y2":{"datum":200}}}
]},
{"width":55,"height":978,"resolve":{"scale":{"x":"independent"},"axis":{"y":"independent"}},"layer":[
{"data":{"name":"E"},"mark":{"type":"rect","fill":"#0d1729","stroke":"#1e3350","clip":true},"encoding":{"x":{"datum":-1.27,"type":"quantitative","scale":{"domain":[-1.27,4.27]},"axis":null},"x2":{"datum":-0.5},"y":{"datum":-200,"type":"quantitative","axis":null},"y2":{"datum":200}}},
{"data":{"name":"E"},"mark":{"type":"rect","fill":"#260c1b","stroke":"#3e1630","clip":true},"encoding":{"x":{"datum":3.5,"type":"quantitative","scale":{"domain":[-1.27,4.27]},"axis":null},"x2":{"datum":4.27},"y":{"datum":-200,"type":"quantitative","axis":null},"y2":{"datum":200}}},
{"data":{"name":"C"},"mark":{"type":"tick","orient":"horizontal","size":9,"thickness":3,"yOffset":-2,"color":"#dce6ef","clip":true},"encoding":{"x":{"field":"l","type":"quantitative","scale":{"domain":[-1.27,4.27]},"axis":{"values":[-0.5,0.5,1.5,2.5,3.5],"title":null}},"y":{"field":"m","type":"quantitative","scale":{"domain":[92.96875,98.0625],"nice":false,"zero":false},"axis":{"orient":"left","values":[93,94,95,96,97],"title":null,"zindex":1}}}},
{"data":{"name":"X"},"mark":{"type":"tick","orient":"horizontal","size":19,"thickness":2,"yOffset":-1,"color":"#ff7a10","clip":true},"encoding":{"x":{"field":"l","type":"quantitative","scale":{"domain":[-0.885,1.885]},"axis":null},"y":{"field":"m","type":"quantitative","axis":{"orient":"right","values":[93.25,93.5,93.75,94.25,94.5,94.75,95.25,95.5,95.75,96.25,96.5,96.75],"title":null}}}},
{"data":{"name":"L"},"mark":{"type":"line","clip":true},"encoding":{"x":{"field":"p","type":"quantitative","scale":{"domain":[-0.0851,1.0851]},"axis":null},"y":{"field":"m","type":"quantitative","axis":null},"color":{"field":"sd","type":"nominal","scale":{"domain":["L","R"],"range":["#1f86cc","#b8358e"]},"legend":null},"detail":{"field":"id"},"order":{"field":"s"}}},
{"data":{"name":"L"},"transform":[{"filter":"datum.s==0"}],"mark":{"type":"tick","orient":"horizontal","size":7,"thickness":1.5,"color":"#ffffff","clip":true},"encoding":{"x":{"field":"p","type":"quantitative","scale":{"domain":[-0.0851,1.0851]},"axis":null},"y":{"field":"m","type":"quantitative","axis":null}}},
{"data":{"name":"L"},"transform":[{"filter":"datum.s==0"}],"mark":{"type":"point","shape":"M-1,0.6L0,-0.6L1,0.6","filled":false,"strokeWidth":1.5,"size":49,"yOffset":3,"opacity":1,"clip":true},"encoding":{"x":{"field":"p","type":"quantitative","scale":{"domain":[-0.0851,1.0851]},"axis":null},"y":{"field":"m","type":"quantitative","axis":null},"color":{"field":"sd","type":"nominal","scale":{"domain":["L","R"],"range":["#1f86cc","#b8358e"]},"legend":null}}},
{"data":{"name":"E"},"mark":{"type":"rect","color":"#1a1a1a","yOffset":-12,"clip":true},"encoding":{"x":{"datum":-200,"type":"quantitative","scale":{"domain":[-1.27,4.27]},"axis":null},"x2":{"datum":200},"y":{"datum":97,"type":"quantitative","axis":null},"y2":{"datum":200}}}
]},
{"width":55,"height":978,"resolve":{"scale":{"x":"independent"},"axis":{"y":"independent"}},"layer":[
{"data":{"name":"E"},"mark":{"type":"rect","fill":"#0d1729","stroke":"#1e3350","clip":true},"encoding":{"x":{"datum":-1.27,"type":"quantitative","scale":{"domain":[-1.27,4.27]},"axis":null},"x2":{"datum":-0.5},"y":{"datum":-200,"type":"quantitative","axis":null},"y2":{"datum":200}}},
{"data":{"name":"E"},"mark":{"type":"rect","fill":"#260c1b","stroke":"#3e1630","clip":true},"encoding":{"x":{"datum":3.5,"type":"quantitative","scale":{"domain":[-1.27,4.27]},"axis":null},"x2":{"datum":4.27},"y":{"datum":-200,"type":"quantitative","axis":null},"y2":{"datum":200}}},
{"data":{"name":"C"},"mark":{"type":"tick","orient":"horizontal","size":9,"thickness":3,"yOffset":-2,"color":"#dce6ef","clip":true},"encoding":{"x":{"field":"l","type":"quantitative","scale":{"domain":[-1.27,4.27]},"axis":{"values":[-0.5,0.5,1.5,2.5,3.5],"title":null}},"y":{"field":"m","type":"quantitative","scale":{"domain":[96.96875,102.0625],"nice":false,"zero":false},"axis":{"orient":"left","values":[97],"title":null,"zindex":1}}}},
{"data":{"name":"X"},"mark":{"type":"tick","orient":"horizontal","size":19,"thickness":2,"yOffset":-1,"color":"#ff7a10","clip":true},"encoding":{"x":{"field":"l","type":"quantitative","scale":{"domain":[-0.885,1.885]},"axis":null},"y":{"field":"m","type":"quantitative","axis":{"orient":"right","values":[97.25],"title":null}}}},
{"data":{"name":"E"},"mark":{"type":"rect","color":"#1a1a1a","yOffset":-12,"clip":true},"encoding":{"x":{"datum":-200,"type":"quantitative","scale":{"domain":[-1.27,4.27]},"axis":null},"x2":{"datum":200},"y":{"datum":97.375,"type":"quantitative","axis":null},"y2":{"datum":200}}}
]}
]
}
